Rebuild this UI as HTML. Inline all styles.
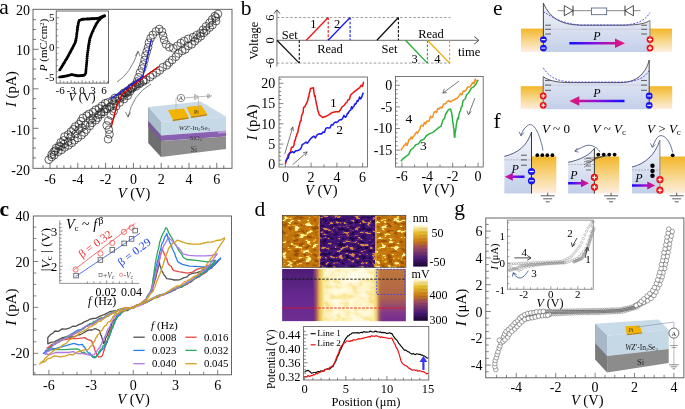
<!DOCTYPE html>
<html><head><meta charset="utf-8"><style>
html,body{margin:0;padding:0;background:#fff;width:685px;height:409px;overflow:hidden}
svg{display:block;will-change:transform}
</style></head><body>
<svg width="685" height="409" viewBox="0 0 685 409">
<rect width="685" height="409" fill="#fff"/>
<text x="-0.8" y="14.1" font-size="21.5" text-anchor="start" font-family='"Liberation Serif", serif' fill="#000" stroke="#000" stroke-width="0.0">a</text>
<line x1="43" y1="168.3" x2="43" y2="165.3" stroke="#666" stroke-width="0.9"/>
<line x1="50" y1="168.3" x2="50" y2="162.8" stroke="#666" stroke-width="0.9"/>
<line x1="57" y1="168.3" x2="57" y2="165.3" stroke="#666" stroke-width="0.9"/>
<line x1="63.9" y1="168.3" x2="63.9" y2="165.3" stroke="#666" stroke-width="0.9"/>
<line x1="70.8" y1="168.3" x2="70.8" y2="165.3" stroke="#666" stroke-width="0.9"/>
<line x1="77.8" y1="168.3" x2="77.8" y2="162.8" stroke="#666" stroke-width="0.9"/>
<line x1="84.8" y1="168.3" x2="84.8" y2="165.3" stroke="#666" stroke-width="0.9"/>
<line x1="91.7" y1="168.3" x2="91.7" y2="165.3" stroke="#666" stroke-width="0.9"/>
<line x1="98.7" y1="168.3" x2="98.7" y2="165.3" stroke="#666" stroke-width="0.9"/>
<line x1="105.6" y1="168.3" x2="105.6" y2="162.8" stroke="#666" stroke-width="0.9"/>
<line x1="112.6" y1="168.3" x2="112.6" y2="165.3" stroke="#666" stroke-width="0.9"/>
<line x1="119.5" y1="168.3" x2="119.5" y2="165.3" stroke="#666" stroke-width="0.9"/>
<line x1="126.5" y1="168.3" x2="126.5" y2="165.3" stroke="#666" stroke-width="0.9"/>
<line x1="133.4" y1="168.3" x2="133.4" y2="162.8" stroke="#666" stroke-width="0.9"/>
<line x1="140.3" y1="168.3" x2="140.3" y2="165.3" stroke="#666" stroke-width="0.9"/>
<line x1="147.3" y1="168.3" x2="147.3" y2="165.3" stroke="#666" stroke-width="0.9"/>
<line x1="154.2" y1="168.3" x2="154.2" y2="165.3" stroke="#666" stroke-width="0.9"/>
<line x1="161.2" y1="168.3" x2="161.2" y2="162.8" stroke="#666" stroke-width="0.9"/>
<line x1="168.2" y1="168.3" x2="168.2" y2="165.3" stroke="#666" stroke-width="0.9"/>
<line x1="175.1" y1="168.3" x2="175.1" y2="165.3" stroke="#666" stroke-width="0.9"/>
<line x1="182.1" y1="168.3" x2="182.1" y2="165.3" stroke="#666" stroke-width="0.9"/>
<line x1="189" y1="168.3" x2="189" y2="162.8" stroke="#666" stroke-width="0.9"/>
<line x1="196" y1="168.3" x2="196" y2="165.3" stroke="#666" stroke-width="0.9"/>
<line x1="202.9" y1="168.3" x2="202.9" y2="165.3" stroke="#666" stroke-width="0.9"/>
<line x1="209.9" y1="168.3" x2="209.9" y2="165.3" stroke="#666" stroke-width="0.9"/>
<line x1="216.8" y1="168.3" x2="216.8" y2="162.8" stroke="#666" stroke-width="0.9"/>
<line x1="223.8" y1="168.3" x2="223.8" y2="165.3" stroke="#666" stroke-width="0.9"/>
<line x1="33" y1="157.9" x2="36" y2="157.9" stroke="#666" stroke-width="0.9"/>
<line x1="33" y1="148.1" x2="36" y2="148.1" stroke="#666" stroke-width="0.9"/>
<line x1="33" y1="138.2" x2="36" y2="138.2" stroke="#666" stroke-width="0.9"/>
<line x1="33" y1="128.3" x2="38.5" y2="128.3" stroke="#666" stroke-width="0.9"/>
<line x1="33" y1="118.4" x2="36" y2="118.4" stroke="#666" stroke-width="0.9"/>
<line x1="33" y1="108.5" x2="36" y2="108.5" stroke="#666" stroke-width="0.9"/>
<line x1="33" y1="98.7" x2="36" y2="98.7" stroke="#666" stroke-width="0.9"/>
<line x1="33" y1="88.8" x2="38.5" y2="88.8" stroke="#666" stroke-width="0.9"/>
<line x1="33" y1="78.9" x2="36" y2="78.9" stroke="#666" stroke-width="0.9"/>
<line x1="33" y1="69" x2="36" y2="69" stroke="#666" stroke-width="0.9"/>
<line x1="33" y1="59.2" x2="36" y2="59.2" stroke="#666" stroke-width="0.9"/>
<line x1="33" y1="49.3" x2="38.5" y2="49.3" stroke="#666" stroke-width="0.9"/>
<line x1="33" y1="39.4" x2="36" y2="39.4" stroke="#666" stroke-width="0.9"/>
<line x1="33" y1="29.5" x2="36" y2="29.5" stroke="#666" stroke-width="0.9"/>
<line x1="33" y1="19.7" x2="36" y2="19.7" stroke="#666" stroke-width="0.9"/>
<text x="50" y="183.8" font-size="14" text-anchor="middle" font-family='"Liberation Serif", serif' fill="#000" stroke="#000" stroke-width="0.0">-6</text>
<text x="77.8" y="183.8" font-size="14" text-anchor="middle" font-family='"Liberation Serif", serif' fill="#000" stroke="#000" stroke-width="0.0">-4</text>
<text x="105.6" y="183.8" font-size="14" text-anchor="middle" font-family='"Liberation Serif", serif' fill="#000" stroke="#000" stroke-width="0.0">-2</text>
<text x="133.4" y="183.8" font-size="14" text-anchor="middle" font-family='"Liberation Serif", serif' fill="#000" stroke="#000" stroke-width="0.0">0</text>
<text x="161.2" y="183.8" font-size="14" text-anchor="middle" font-family='"Liberation Serif", serif' fill="#000" stroke="#000" stroke-width="0.0">2</text>
<text x="189" y="183.8" font-size="14" text-anchor="middle" font-family='"Liberation Serif", serif' fill="#000" stroke="#000" stroke-width="0.0">4</text>
<text x="216.8" y="183.8" font-size="14" text-anchor="middle" font-family='"Liberation Serif", serif' fill="#000" stroke="#000" stroke-width="0.0">6</text>
<text x="30" y="15.2" font-size="14" text-anchor="end" font-family='"Liberation Serif", serif' fill="#000" stroke="#000" stroke-width="0.0">20</text>
<text x="30" y="55.2" font-size="14" text-anchor="end" font-family='"Liberation Serif", serif' fill="#000" stroke="#000" stroke-width="0.0">10</text>
<text x="30" y="95.2" font-size="14" text-anchor="end" font-family='"Liberation Serif", serif' fill="#000" stroke="#000" stroke-width="0.0">0</text>
<text x="30" y="135.2" font-size="14" text-anchor="end" font-family='"Liberation Serif", serif' fill="#000" stroke="#000" stroke-width="0.0">-10</text>
<text x="30" y="175.2" font-size="14" text-anchor="end" font-family='"Liberation Serif", serif' fill="#000" stroke="#000" stroke-width="0.0">-20</text>
<rect x="33" y="9.3" width="199" height="159.0" fill="none" stroke="#555" stroke-width="0.9"/>
<text x="134" y="198.3" font-size="14.5" text-anchor="middle" font-family='"Liberation Serif", serif' fill="#000" stroke="#000" stroke-width="0.0"><tspan font-style="italic">V</tspan> (V)</text>
<g transform="translate(16,89) rotate(-90)"><text x="0" y="0" font-size="14.5" text-anchor="middle" font-family='"Liberation Serif", serif' fill="#000" stroke="#000" stroke-width="0.0"><tspan font-style="italic">I</tspan> (pA)</text>
</g>
<g fill="none" stroke="#222" stroke-width="0.7"><circle cx="55.3" cy="150.7" r="3.85"/><circle cx="60.5" cy="146.5" r="3.85"/><circle cx="63.9" cy="144" r="3.85"/><circle cx="68.2" cy="141.7" r="3.85"/><circle cx="70.6" cy="136.7" r="3.85"/><circle cx="75.6" cy="134" r="3.85"/><circle cx="78.9" cy="129.6" r="3.85"/><circle cx="81.8" cy="127.6" r="3.85"/><circle cx="85.2" cy="124.9" r="3.85"/><circle cx="90.4" cy="120.1" r="3.85"/><circle cx="92.6" cy="118" r="3.85"/><circle cx="98.4" cy="114.8" r="3.85"/><circle cx="101.1" cy="112.2" r="3.85"/><circle cx="104.9" cy="109.1" r="3.85"/><circle cx="109.9" cy="107" r="3.85"/><circle cx="51.6" cy="154.6" r="3.85"/><circle cx="53.7" cy="151.9" r="3.85"/><circle cx="56" cy="148.1" r="3.85"/><circle cx="59" cy="146" r="3.85"/><circle cx="60.8" cy="142.3" r="3.85"/><circle cx="63.5" cy="140.4" r="3.85"/><circle cx="64.5" cy="136.6" r="3.85"/><circle cx="68.1" cy="134.6" r="3.85"/><circle cx="71.1" cy="131.5" r="3.85"/><circle cx="73.5" cy="129.3" r="3.85"/><circle cx="75.3" cy="126.5" r="3.85"/><circle cx="78.9" cy="124.3" r="3.85"/><circle cx="80.9" cy="121.2" r="3.85"/><circle cx="82.8" cy="118" r="3.85"/><circle cx="86.7" cy="115.7" r="3.85"/><circle cx="88.9" cy="114" r="3.85"/><circle cx="92.9" cy="112.2" r="3.85"/><circle cx="95.5" cy="109.8" r="3.85"/><circle cx="98.9" cy="108.4" r="3.85"/><circle cx="102" cy="105.8" r="3.85"/><circle cx="105.2" cy="103.3" r="3.85"/><circle cx="107.7" cy="102.5" r="3.85"/><circle cx="112.4" cy="100.5" r="3.85"/><circle cx="114.8" cy="98" r="3.85"/><circle cx="118.2" cy="97.5" r="3.85"/><circle cx="121.9" cy="95" r="3.85"/><circle cx="125.3" cy="92.7" r="3.85"/><circle cx="127.8" cy="91.7" r="3.85"/><circle cx="130.9" cy="88.7" r="3.85"/><circle cx="133.4" cy="86.7" r="3.85"/><circle cx="137.5" cy="83.6" r="3.85"/><circle cx="140.2" cy="82.7" r="3.85"/><circle cx="143.4" cy="80.4" r="3.85"/><circle cx="48.8" cy="159.7" r="3.85"/><circle cx="51.7" cy="157.1" r="3.85"/><circle cx="54.3" cy="155.1" r="3.85"/><circle cx="58.2" cy="151.8" r="3.85"/><circle cx="61.5" cy="149.9" r="3.85"/><circle cx="64.8" cy="147.4" r="3.85"/><circle cx="68.4" cy="145.4" r="3.85"/><circle cx="71.8" cy="142.9" r="3.85"/><circle cx="74.5" cy="140.3" r="3.85"/><circle cx="77.7" cy="138" r="3.85"/><circle cx="81.4" cy="135.3" r="3.85"/><circle cx="84.3" cy="132.5" r="3.85"/><circle cx="86.5" cy="129.6" r="3.85"/><circle cx="89.9" cy="125.8" r="3.85"/><circle cx="92" cy="122.8" r="3.85"/><circle cx="95.8" cy="120.2" r="3.85"/><circle cx="97.9" cy="117.7" r="3.85"/><circle cx="101.1" cy="114.2" r="3.85"/><circle cx="103.8" cy="111.8" r="3.85"/><circle cx="106.8" cy="108.7" r="3.85"/><circle cx="110.7" cy="106.4" r="3.85"/><circle cx="113.4" cy="103.8" r="3.85"/><circle cx="116.2" cy="101.1" r="3.85"/><circle cx="119.9" cy="98.3" r="3.85"/><circle cx="122.7" cy="96.6" r="3.85"/><circle cx="126.5" cy="93.3" r="3.85"/><circle cx="129.9" cy="91.6" r="3.85"/><circle cx="132.4" cy="88.2" r="3.85"/><circle cx="135.9" cy="86.5" r="3.85"/><circle cx="139.2" cy="84.1" r="3.85"/><circle cx="143.2" cy="81.6" r="3.85"/><circle cx="146" cy="79.8" r="3.85"/><circle cx="150.2" cy="77" r="3.85"/><circle cx="152.9" cy="74.9" r="3.85"/><circle cx="156.5" cy="72.6" r="3.85"/><circle cx="159.8" cy="70.4" r="3.85"/><circle cx="162.7" cy="67.3" r="3.85"/><circle cx="166.9" cy="65.3" r="3.85"/><circle cx="169.2" cy="62.6" r="3.85"/><circle cx="172.2" cy="60" r="3.85"/><circle cx="175.9" cy="56.7" r="3.85"/><circle cx="178.4" cy="53.5" r="3.85"/><circle cx="182.2" cy="50.9" r="3.85"/><circle cx="185.3" cy="49.4" r="3.85"/><circle cx="188.3" cy="45.9" r="3.85"/><circle cx="191.8" cy="44.3" r="3.85"/><circle cx="194.8" cy="41.2" r="3.85"/><circle cx="197.7" cy="38.5" r="3.85"/><circle cx="200.7" cy="36.3" r="3.85"/><circle cx="203.9" cy="32.9" r="3.85"/><circle cx="206.4" cy="30.6" r="3.85"/><circle cx="209.6" cy="27.5" r="3.85"/><circle cx="212.5" cy="25" r="3.85"/><circle cx="216.1" cy="21.1" r="3.85"/><circle cx="216.1" cy="17.5" r="3.85"/><circle cx="218" cy="14" r="3.85"/><circle cx="123.9" cy="92.8" r="3.85"/><circle cx="127.7" cy="90.5" r="3.85"/><circle cx="131.4" cy="87.5" r="3.85"/><circle cx="135" cy="85" r="3.85"/><circle cx="137" cy="81.5" r="3.85"/><circle cx="138.5" cy="77.2" r="3.85"/><circle cx="140" cy="72.6" r="3.85"/><circle cx="142.1" cy="68.5" r="3.85"/><circle cx="143.4" cy="64.5" r="3.85"/><circle cx="144.6" cy="60" r="3.85"/><circle cx="145.4" cy="55.6" r="3.85"/><circle cx="146.8" cy="51.4" r="3.85"/><circle cx="148.1" cy="47.3" r="3.85"/><circle cx="148.9" cy="42.7" r="3.85"/><circle cx="150.6" cy="38.3" r="3.85"/><circle cx="152.8" cy="34.9" r="3.85"/><circle cx="155.9" cy="31.4" r="3.85"/><circle cx="159.3" cy="29" r="3.85"/><circle cx="161.9" cy="31.5" r="3.85"/><circle cx="163.1" cy="35.7" r="3.85"/><circle cx="164.1" cy="40" r="3.85"/><circle cx="166.1" cy="44.4" r="3.85"/><circle cx="169.4" cy="47.2" r="3.85"/><circle cx="173.4" cy="48.3" r="3.85"/><circle cx="177.4" cy="45.8" r="3.85"/><circle cx="180.8" cy="43" r="3.85"/><circle cx="184.2" cy="41" r="3.85"/><circle cx="188.3" cy="38.8" r="3.85"/><circle cx="193" cy="37.2" r="3.85"/><circle cx="196.6" cy="35.2" r="3.85"/><circle cx="200.4" cy="33.3" r="3.85"/><circle cx="203" cy="29.8" r="3.85"/><circle cx="206" cy="26.3" r="3.85"/><circle cx="209.5" cy="22.8" r="3.85"/><circle cx="212.1" cy="19.5" r="3.85"/><circle cx="214.8" cy="16.1" r="3.85"/><circle cx="127.7" cy="95.7" r="3.85"/><circle cx="124" cy="99" r="3.85"/><circle cx="119.7" cy="102.5" r="3.85"/><circle cx="116.1" cy="106.3" r="3.85"/><circle cx="113.6" cy="111.3" r="3.85"/><circle cx="111" cy="115.4" r="3.85"/><circle cx="108.3" cy="120.6" r="3.85"/><circle cx="106.7" cy="125.4" r="3.85"/><circle cx="108.9" cy="129.7" r="3.85"/><circle cx="109.5" cy="134.3" r="3.85"/><circle cx="108.1" cy="139.2" r="3.85"/></g>
<polyline points="111.1,127.5 117,105 122.3,94.2 140,80 158.5,66.8" stroke="#e00000" stroke-width="1.4" fill="none" stroke-linejoin="round"/>
<polyline points="110.5,99.1 142.8,76.6 151.3,39.3" stroke="#2020e0" stroke-width="1.4" fill="none" stroke-linejoin="round"/>
<path d="M117,82 Q130,74 138,52" fill="none" stroke="#333" stroke-width="0.6"/>
<path d="M135.5,56 L138,51 L140,56" fill="none" stroke="#333" stroke-width="0.6"/>
<path d="M151,84 Q133,94 128,117" fill="none" stroke="#333" stroke-width="0.6"/>
<path d="M125.5,112 L128,117 L130.5,112.5" fill="none" stroke="#333" stroke-width="0.6"/>
<polygon points="148.2,106.9 161,122 161,157 148.2,143" fill="#6e6e6e"/><polygon points="148.2,106.9 161,122 161,135.5 148.2,121" fill="#a9bccb"/><polygon points="148.2,121 161,135.5 161,141 148.2,127" fill="#7a5a9a"/><polygon points="148.2,106.9 200.6,101.4 226,116.5 161,122" fill="#c9dbe8"/><polygon points="161,122 226,116.5 226,130.8 161,135.5" fill="#c6d9e7"/><polygon points="161,135.5 226,130.8 226,136.5 161,141" fill="#8a60b0"/><polygon points="161,141 226,136.5 226,149 161,157" fill="#8e8e8e"/><polygon points="218,131.3 226,130.8 226,133 218,133.6" fill="#b89ad8"/><polygon points="168,110 184,108.5 188.7,117.3 172.8,119.6" fill="#f3b400"/><polygon points="172.8,119.6 188.7,117.3 188.7,118.8 172.8,121.2" fill="#c08400"/><polygon points="186.3,106.9 201.4,105.3 207,114 191,116.5" fill="#f3b400"/><polygon points="191,116.5 207,114 207,115.5 191,118" fill="#c08400"/><text x="196.5" y="113.5" font-size="6" text-anchor="middle" font-family='"Liberation Serif", serif' fill="#333" stroke="#333" stroke-width="0.0">Pt</text>
<text x="194.3" y="130" font-size="7" text-anchor="middle" font-family='"Liberation Serif", serif' fill="#333" stroke="#333" stroke-width="0.0"><tspan font-style="italic">WZ'</tspan>-In<tspan font-size="4.5" dy="1">2</tspan><tspan dy="-1">Se</tspan><tspan font-size="4.5" dy="1">3</tspan></text>
<text x="195.9" y="139.6" font-size="6.5" text-anchor="middle" font-family='"Liberation Serif", serif' fill="#333" stroke="#333" stroke-width="0.0">SiO<tspan font-size="4.5" dy="1">2</tspan></text>
<text x="194" y="152" font-size="7.5" text-anchor="middle" font-family='"Liberation Serif", serif' fill="#333" stroke="#333" stroke-width="0.0">Si</text>
<polyline points="176,113 176,98 177.3,98" stroke="#aaa" stroke-width="0.6" fill="none" stroke-linejoin="round"/>
<circle cx="181" cy="98" r="3.7" fill="#fff" stroke="#444" stroke-width="0.6"/><text x="181" y="100.3" font-size="6" text-anchor="middle" font-family='"Liberation Serif", serif' fill="#333" stroke="#333" stroke-width="0.0">A</text>
<polyline points="184.7,98 195,97" stroke="#888" stroke-width="0.6" fill="none" stroke-linejoin="round"/>
<line x1="195" y1="94" x2="195" y2="100" stroke="#555" stroke-width="0.7"/>
<line x1="197" y1="95.2" x2="197" y2="98.8" stroke="#555" stroke-width="0.7"/>
<polyline points="197,97 208,96 208,98" stroke="#888" stroke-width="0.6" fill="none" stroke-linejoin="round"/>
<polyline points="198.5,97 198.5,110" stroke="#aaa" stroke-width="0.6" fill="none" stroke-linejoin="round"/>
<line x1="208" y1="93.5" x2="208" y2="98.5" stroke="#555" stroke-width="0.6"/>
<line x1="209.5" y1="94.5" x2="209.5" y2="97.5" stroke="#555" stroke-width="0.6"/>
<line x1="211" y1="95.2" x2="211" y2="96.8" stroke="#555" stroke-width="0.6"/>

<rect x="56.2" y="11" width="52.4" height="72.1" fill="#fff" stroke="#444" stroke-width="0.8"/>
<line x1="60.2" y1="83.1" x2="60.2" y2="80.1" stroke="#666" stroke-width="0.7"/>
<line x1="63.8" y1="83.1" x2="63.8" y2="81.1" stroke="#666" stroke-width="0.7"/>
<line x1="67.5" y1="83.1" x2="67.5" y2="81.1" stroke="#666" stroke-width="0.7"/>
<line x1="71.1" y1="83.1" x2="71.1" y2="80.1" stroke="#666" stroke-width="0.7"/>
<line x1="74.8" y1="83.1" x2="74.8" y2="81.1" stroke="#666" stroke-width="0.7"/>
<line x1="78.4" y1="83.1" x2="78.4" y2="81.1" stroke="#666" stroke-width="0.7"/>
<line x1="82.1" y1="83.1" x2="82.1" y2="80.1" stroke="#666" stroke-width="0.7"/>
<line x1="85.8" y1="83.1" x2="85.8" y2="81.1" stroke="#666" stroke-width="0.7"/>
<line x1="89.4" y1="83.1" x2="89.4" y2="81.1" stroke="#666" stroke-width="0.7"/>
<line x1="93" y1="83.1" x2="93" y2="80.1" stroke="#666" stroke-width="0.7"/>
<line x1="96.7" y1="83.1" x2="96.7" y2="81.1" stroke="#666" stroke-width="0.7"/>
<line x1="100.3" y1="83.1" x2="100.3" y2="81.1" stroke="#666" stroke-width="0.7"/>
<line x1="104" y1="83.1" x2="104" y2="80.1" stroke="#666" stroke-width="0.7"/>
<line x1="107.6" y1="83.1" x2="107.6" y2="81.1" stroke="#666" stroke-width="0.7"/>
<line x1="56.2" y1="77.7" x2="59.2" y2="77.7" stroke="#666" stroke-width="0.7"/>
<line x1="56.2" y1="71.7" x2="58.2" y2="71.7" stroke="#666" stroke-width="0.7"/>
<line x1="56.2" y1="65.7" x2="58.2" y2="65.7" stroke="#666" stroke-width="0.7"/>
<line x1="56.2" y1="59.7" x2="58.2" y2="59.7" stroke="#666" stroke-width="0.7"/>
<line x1="56.2" y1="53.7" x2="58.2" y2="53.7" stroke="#666" stroke-width="0.7"/>
<line x1="56.2" y1="47.7" x2="59.2" y2="47.7" stroke="#666" stroke-width="0.7"/>
<line x1="56.2" y1="41.7" x2="58.2" y2="41.7" stroke="#666" stroke-width="0.7"/>
<line x1="56.2" y1="35.7" x2="58.2" y2="35.7" stroke="#666" stroke-width="0.7"/>
<line x1="56.2" y1="29.7" x2="58.2" y2="29.7" stroke="#666" stroke-width="0.7"/>
<line x1="56.2" y1="23.7" x2="58.2" y2="23.7" stroke="#666" stroke-width="0.7"/>
<line x1="56.2" y1="17.7" x2="59.2" y2="17.7" stroke="#666" stroke-width="0.7"/>
<text x="60.2" y="93.5" font-size="11" text-anchor="middle" font-family='"Liberation Serif", serif' fill="#000" stroke="#000" stroke-width="0.0">-6</text>
<text x="71.1" y="93.5" font-size="11" text-anchor="middle" font-family='"Liberation Serif", serif' fill="#000" stroke="#000" stroke-width="0.0">-3</text>
<text x="82.1" y="93.5" font-size="11" text-anchor="middle" font-family='"Liberation Serif", serif' fill="#000" stroke="#000" stroke-width="0.0">0</text>
<text x="93" y="93.5" font-size="11" text-anchor="middle" font-family='"Liberation Serif", serif' fill="#000" stroke="#000" stroke-width="0.0">3</text>
<text x="104" y="93.5" font-size="11" text-anchor="middle" font-family='"Liberation Serif", serif' fill="#000" stroke="#000" stroke-width="0.0">6</text>
<text x="54.5" y="20.9" font-size="11" text-anchor="end" font-family='"Liberation Serif", serif' fill="#000" stroke="#000" stroke-width="0.0">5</text>
<text x="54.5" y="50.9" font-size="11" text-anchor="end" font-family='"Liberation Serif", serif' fill="#000" stroke="#000" stroke-width="0.0">0</text>
<text x="54.5" y="80.9" font-size="11" text-anchor="end" font-family='"Liberation Serif", serif' fill="#000" stroke="#000" stroke-width="0.0">-5</text>
<text x="82" y="100.5" font-size="12" text-anchor="middle" font-family='"Liberation Serif", serif' fill="#000" stroke="#000" stroke-width="0.0"><tspan font-style="italic">V</tspan> (V)</text>
<g transform="translate(46.5,45) rotate(-90)"><text x="0" y="0" font-size="11" text-anchor="middle" font-family='"Liberation Serif", serif' fill="#000" stroke="#000" stroke-width="0.0"><tspan font-style="italic">P</tspan> (mC/cm<tspan baseline-shift="super" font-size="6.5">2</tspan>)</text>
</g>
<g fill="#000"><circle cx="59.8" cy="69.9" r="1.45"/><circle cx="60.7" cy="68.6" r="1.45"/><circle cx="61.5" cy="67.2" r="1.45"/><circle cx="62.3" cy="65.9" r="1.45"/><circle cx="63.1" cy="64.5" r="1.45"/><circle cx="63.9" cy="63.2" r="1.45"/><circle cx="64.7" cy="61.9" r="1.45"/><circle cx="65.5" cy="60.5" r="1.45"/><circle cx="66.4" cy="59.2" r="1.45"/><circle cx="67.2" cy="57.8" r="1.45"/><circle cx="68" cy="56.4" r="1.45"/><circle cx="68.7" cy="55" r="1.45"/><circle cx="69.5" cy="53.6" r="1.45"/><circle cx="70.2" cy="52.2" r="1.45"/><circle cx="71" cy="50.7" r="1.45"/><circle cx="71.8" cy="49.3" r="1.45"/><circle cx="72.5" cy="47.9" r="1.45"/><circle cx="73.3" cy="46.4" r="1.45"/><circle cx="74" cy="45" r="1.45"/><circle cx="74.8" cy="43.6" r="1.45"/><circle cx="75.4" cy="42" r="1.45"/><circle cx="75.8" cy="40.2" r="1.45"/><circle cx="76.2" cy="38.4" r="1.45"/><circle cx="76.5" cy="36.6" r="1.45"/><circle cx="76.7" cy="34.7" r="1.45"/><circle cx="76.9" cy="32.9" r="1.45"/><circle cx="77.2" cy="31" r="1.45"/><circle cx="77.4" cy="29.2" r="1.45"/><circle cx="77.6" cy="27.3" r="1.45"/><circle cx="78" cy="25.5" r="1.45"/><circle cx="78.3" cy="23.7" r="1.45"/><circle cx="78.7" cy="21.9" r="1.45"/><circle cx="79.3" cy="20.5" r="1.45"/><circle cx="80.4" cy="20.1" r="1.45"/><circle cx="81.5" cy="19.6" r="1.45"/><circle cx="82.6" cy="19.2" r="1.45"/><circle cx="83.8" cy="19.2" r="1.45"/><circle cx="84.9" cy="19.1" r="1.45"/><circle cx="86.1" cy="19.1" r="1.45"/><circle cx="87.3" cy="19" r="1.45"/><circle cx="88.4" cy="19" r="1.45"/><circle cx="89.6" cy="19" r="1.45"/><circle cx="90.7" cy="18.9" r="1.45"/><circle cx="91.9" cy="18.8" r="1.45"/><circle cx="93" cy="18.8" r="1.45"/><circle cx="94.2" cy="18.7" r="1.45"/><circle cx="95.3" cy="18.6" r="1.45"/><circle cx="96.5" cy="18.5" r="1.45"/><circle cx="97.6" cy="18.4" r="1.45"/><circle cx="98.8" cy="18.2" r="1.45"/><circle cx="99.9" cy="17.7" r="1.45"/><circle cx="101" cy="17.3" r="1.45"/><circle cx="102.1" cy="16.8" r="1.45"/><circle cx="103.2" cy="16.4" r="1.45"/><circle cx="104.4" cy="15.9" r="1.45"/><circle cx="104.4" cy="15.9" r="1.45"/><circle cx="103.2" cy="16.6" r="1.45"/><circle cx="102" cy="17.4" r="1.45"/><circle cx="100.9" cy="18.3" r="1.45"/><circle cx="99.8" cy="19.4" r="1.45"/><circle cx="98.7" cy="20.5" r="1.45"/><circle cx="97.7" cy="21.9" r="1.45"/><circle cx="96.8" cy="23.3" r="1.45"/><circle cx="95.9" cy="24.7" r="1.45"/><circle cx="95.1" cy="26.4" r="1.45"/><circle cx="94.3" cy="28" r="1.45"/><circle cx="93.5" cy="29.6" r="1.45"/><circle cx="92.8" cy="31.3" r="1.45"/><circle cx="92" cy="33" r="1.45"/><circle cx="91.3" cy="34.7" r="1.45"/><circle cx="90.7" cy="36.5" r="1.45"/><circle cx="90" cy="38.3" r="1.45"/><circle cx="89.6" cy="40.3" r="1.45"/><circle cx="89.2" cy="42.3" r="1.45"/><circle cx="88.9" cy="44.3" r="1.45"/><circle cx="88.5" cy="46.3" r="1.45"/><circle cx="88.3" cy="48.3" r="1.45"/><circle cx="88" cy="50.4" r="1.45"/><circle cx="87.7" cy="52.4" r="1.45"/><circle cx="87.4" cy="54.5" r="1.45"/><circle cx="87.2" cy="56.5" r="1.45"/><circle cx="87" cy="58.6" r="1.45"/><circle cx="86.9" cy="60.7" r="1.45"/><circle cx="86.7" cy="62.7" r="1.45"/><circle cx="86.5" cy="64.8" r="1.45"/><circle cx="86.3" cy="66.8" r="1.45"/><circle cx="86.1" cy="68.9" r="1.45"/><circle cx="85.9" cy="71" r="1.45"/><circle cx="85.8" cy="73" r="1.45"/><circle cx="84.9" cy="74.5" r="1.45"/><circle cx="83.8" cy="75.4" r="1.45"/><circle cx="82.6" cy="75.5" r="1.45"/><circle cx="81.3" cy="75.6" r="1.45"/><circle cx="80" cy="75.8" r="1.45"/><circle cx="78.8" cy="75.9" r="1.45"/><circle cx="77.5" cy="75.7" r="1.45"/><circle cx="76.2" cy="75.5" r="1.45"/><circle cx="75" cy="75.3" r="1.45"/><circle cx="73.7" cy="75.1" r="1.45"/><circle cx="72.4" cy="74.8" r="1.45"/><circle cx="71.2" cy="74.8" r="1.45"/><circle cx="69.9" cy="75.1" r="1.45"/><circle cx="68.7" cy="75.4" r="1.45"/><circle cx="67.4" cy="75.8" r="1.45"/><circle cx="66.2" cy="76.1" r="1.45"/><circle cx="64.9" cy="76.3" r="1.45"/><circle cx="63.6" cy="76.5" r="1.45"/><circle cx="62.4" cy="76.7" r="1.45"/><circle cx="61.1" cy="76.9" r="1.45"/><circle cx="59.8" cy="77.1" r="1.45"/></g>
<text x="240.8" y="14.7" font-size="21.5" text-anchor="start" font-family='"Liberation Serif", serif' fill="#000" stroke="#000" stroke-width="0.0">b</text>
<line x1="276.9" y1="66.6" x2="276.9" y2="10" stroke="#8a8a8a" stroke-width="1.2"/>
<polyline points="273.9,13.6 276.9,9.8 279.9,13.6" stroke="#222" stroke-width="0.8" fill="none" stroke-linejoin="round"/>
<line x1="276.9" y1="40.3" x2="478" y2="40.3" stroke="#8a8a8a" stroke-width="1.2"/>
<polyline points="474.2,36.5 478.9,40.3 474.2,44.1" stroke="#222" stroke-width="0.8" fill="none" stroke-linejoin="round"/>
<line x1="276.9" y1="17.5" x2="450.5" y2="17.5" stroke="#777" stroke-width="0.7" stroke-dasharray="2.6,1.8"/>
<line x1="276.9" y1="63.1" x2="450.5" y2="63.1" stroke="#777" stroke-width="0.7" stroke-dasharray="2.6,1.8"/>
<g transform="translate(273.6,17.5) rotate(-90)"><text x="0" y="0" font-size="12.5" text-anchor="middle" font-family='"Liberation Serif", serif' fill="#000" stroke="#000" stroke-width="0.0">6</text>
</g>
<g transform="translate(273.6,40.3) rotate(-90)"><text x="0" y="0" font-size="12.5" text-anchor="middle" font-family='"Liberation Serif", serif' fill="#000" stroke="#000" stroke-width="0.0">0</text>
</g>
<g transform="translate(273.6,63.1) rotate(-90)"><text x="0" y="0" font-size="12.5" text-anchor="middle" font-family='"Liberation Serif", serif' fill="#000" stroke="#000" stroke-width="0.0">-6</text>
</g>
<g transform="translate(258,40.7) rotate(-90)"><text x="0" y="0" font-size="12.5" text-anchor="middle" font-family='"Liberation Serif", serif' fill="#000" stroke="#000" stroke-width="0.0">Voltage</text>
</g>
<line x1="276.9" y1="40.3" x2="299.3" y2="63.1" stroke="#111" stroke-width="1.3"/>
<line x1="299.3" y1="40.3" x2="299.3" y2="63.1" stroke="#111" stroke-width="1.1" stroke-dasharray="2.6,1.6"/>
<line x1="306.3" y1="40.3" x2="328.2" y2="17.5" stroke="#ee1111" stroke-width="1.3"/>
<line x1="328.2" y1="17.5" x2="328.2" y2="40.3" stroke="#ee1111" stroke-width="1.1" stroke-dasharray="2.6,1.6"/>
<line x1="328.2" y1="40.3" x2="350.1" y2="17.5" stroke="#1a1aee" stroke-width="1.3"/>
<line x1="350.1" y1="17.5" x2="350.1" y2="40.3" stroke="#1a1aee" stroke-width="1.1" stroke-dasharray="2.6,1.6"/>
<line x1="376.9" y1="40.3" x2="398.4" y2="17.5" stroke="#111" stroke-width="1.3"/>
<line x1="398.4" y1="17.5" x2="398.4" y2="40.3" stroke="#111" stroke-width="1.1" stroke-dasharray="2.6,1.6"/>
<line x1="405.5" y1="40.3" x2="427.4" y2="63.1" stroke="#22aa33" stroke-width="1.3"/>
<line x1="427.4" y1="40.3" x2="427.4" y2="63.1" stroke="#22aa33" stroke-width="1.1" stroke-dasharray="2.6,1.6"/>
<line x1="427.4" y1="40.3" x2="449.6" y2="63.1" stroke="#f0a800" stroke-width="1.3"/>
<line x1="449.6" y1="40.3" x2="449.6" y2="63.1" stroke="#f0a800" stroke-width="1.1" stroke-dasharray="2.6,1.6"/>
<text x="289.7" y="38.5" font-size="12.5" text-anchor="middle" font-family='"Liberation Serif", serif' fill="#000" stroke="#000" stroke-width="0.0">Set</text>
<text x="313.3" y="28" font-size="12.5" text-anchor="middle" font-family='"Liberation Serif", serif' fill="#000" stroke="#000" stroke-width="0.0">1</text>
<text x="337" y="28" font-size="12.5" text-anchor="middle" font-family='"Liberation Serif", serif' fill="#000" stroke="#000" stroke-width="0.0">2</text>
<text x="330" y="52.6" font-size="12.5" text-anchor="middle" font-family='"Liberation Serif", serif' fill="#000" stroke="#000" stroke-width="0.0">Read</text>
<text x="389.6" y="52.6" font-size="12.5" text-anchor="middle" font-family='"Liberation Serif", serif' fill="#000" stroke="#000" stroke-width="0.0">Set</text>
<text x="431" y="37.7" font-size="12.5" text-anchor="middle" font-family='"Liberation Serif", serif' fill="#000" stroke="#000" stroke-width="0.0">Read</text>
<text x="414.6" y="63" font-size="12.5" text-anchor="middle" font-family='"Liberation Serif", serif' fill="#000" stroke="#000" stroke-width="0.0">3</text>
<text x="437.3" y="63" font-size="12.5" text-anchor="middle" font-family='"Liberation Serif", serif' fill="#000" stroke="#000" stroke-width="0.0">4</text>
<text x="469.2" y="56.4" font-size="12.5" text-anchor="middle" font-family='"Liberation Serif", serif' fill="#000" stroke="#000" stroke-width="0.0">time</text>
<line x1="285.4" y1="167" x2="285.4" y2="162.6" stroke="#666" stroke-width="0.8"/>
<line x1="298.3" y1="167" x2="298.3" y2="164.5" stroke="#666" stroke-width="0.8"/>
<line x1="311.1" y1="167" x2="311.1" y2="162.6" stroke="#666" stroke-width="0.8"/>
<line x1="324" y1="167" x2="324" y2="164.5" stroke="#666" stroke-width="0.8"/>
<line x1="336.9" y1="167" x2="336.9" y2="162.6" stroke="#666" stroke-width="0.8"/>
<line x1="349.8" y1="167" x2="349.8" y2="164.5" stroke="#666" stroke-width="0.8"/>
<line x1="362.6" y1="167" x2="362.6" y2="162.6" stroke="#666" stroke-width="0.8"/>
<line x1="279" y1="164.3" x2="283.4" y2="164.3" stroke="#666" stroke-width="0.8"/>
<line x1="279" y1="160.2" x2="281.2" y2="160.2" stroke="#666" stroke-width="0.8"/>
<line x1="279" y1="156.2" x2="281.2" y2="156.2" stroke="#666" stroke-width="0.8"/>
<line x1="279" y1="152.2" x2="281.2" y2="152.2" stroke="#666" stroke-width="0.8"/>
<line x1="279" y1="148.1" x2="281.2" y2="148.1" stroke="#666" stroke-width="0.8"/>
<line x1="279" y1="144.1" x2="283.4" y2="144.1" stroke="#666" stroke-width="0.8"/>
<line x1="279" y1="140" x2="281.2" y2="140" stroke="#666" stroke-width="0.8"/>
<line x1="279" y1="136" x2="281.2" y2="136" stroke="#666" stroke-width="0.8"/>
<line x1="279" y1="131.9" x2="281.2" y2="131.9" stroke="#666" stroke-width="0.8"/>
<line x1="279" y1="127.9" x2="281.2" y2="127.9" stroke="#666" stroke-width="0.8"/>
<line x1="279" y1="123.8" x2="283.4" y2="123.8" stroke="#666" stroke-width="0.8"/>
<line x1="279" y1="119.8" x2="281.2" y2="119.8" stroke="#666" stroke-width="0.8"/>
<line x1="279" y1="115.7" x2="281.2" y2="115.7" stroke="#666" stroke-width="0.8"/>
<line x1="279" y1="111.7" x2="281.2" y2="111.7" stroke="#666" stroke-width="0.8"/>
<line x1="279" y1="107.6" x2="281.2" y2="107.6" stroke="#666" stroke-width="0.8"/>
<line x1="279" y1="103.6" x2="283.4" y2="103.6" stroke="#666" stroke-width="0.8"/>
<line x1="279" y1="99.5" x2="281.2" y2="99.5" stroke="#666" stroke-width="0.8"/>
<line x1="279" y1="95.5" x2="281.2" y2="95.5" stroke="#666" stroke-width="0.8"/>
<line x1="279" y1="91.4" x2="281.2" y2="91.4" stroke="#666" stroke-width="0.8"/>
<line x1="279" y1="87.4" x2="281.2" y2="87.4" stroke="#666" stroke-width="0.8"/>
<line x1="279" y1="83.3" x2="283.4" y2="83.3" stroke="#666" stroke-width="0.8"/>
<line x1="279" y1="79.3" x2="281.2" y2="79.3" stroke="#666" stroke-width="0.8"/>
<rect x="279" y="77" width="88.39999999999998" height="90" fill="none" stroke="#555" stroke-width="0.8"/>
<text x="285.4" y="182" font-size="14" text-anchor="middle" font-family='"Liberation Serif", serif' fill="#000" stroke="#000" stroke-width="0.0">0</text>
<text x="311.1" y="182" font-size="14" text-anchor="middle" font-family='"Liberation Serif", serif' fill="#000" stroke="#000" stroke-width="0.0">2</text>
<text x="336.9" y="182" font-size="14" text-anchor="middle" font-family='"Liberation Serif", serif' fill="#000" stroke="#000" stroke-width="0.0">4</text>
<text x="362.6" y="182" font-size="14" text-anchor="middle" font-family='"Liberation Serif", serif' fill="#000" stroke="#000" stroke-width="0.0">6</text>
<text x="275.2" y="88.1" font-size="14" text-anchor="end" font-family='"Liberation Serif", serif' fill="#000" stroke="#000" stroke-width="0.0">20</text>
<text x="275.2" y="108.4" font-size="14" text-anchor="end" font-family='"Liberation Serif", serif' fill="#000" stroke="#000" stroke-width="0.0">15</text>
<text x="275.2" y="128.6" font-size="14" text-anchor="end" font-family='"Liberation Serif", serif' fill="#000" stroke="#000" stroke-width="0.0">10</text>
<text x="275.2" y="148.9" font-size="14" text-anchor="end" font-family='"Liberation Serif", serif' fill="#000" stroke="#000" stroke-width="0.0">5</text>
<text x="275.2" y="169.1" font-size="14" text-anchor="end" font-family='"Liberation Serif", serif' fill="#000" stroke="#000" stroke-width="0.0">0</text>
<text x="321.3" y="195.3" font-size="14.5" text-anchor="middle" font-family='"Liberation Serif", serif' fill="#000" stroke="#000" stroke-width="0.0"><tspan font-style="italic">V</tspan> (V)</text>
<g transform="translate(256.5,122.4) rotate(-90)"><text x="0" y="0" font-size="14.5" text-anchor="middle" font-family='"Liberation Serif", serif' fill="#000" stroke="#000" stroke-width="0.0"><tspan font-style="italic">I</tspan> (pA)</text>
</g>
<polyline points="285.4,164 286.2,160.8 286.9,159.4 287.7,156.4 288.4,154.3 289.2,154.2 290.3,152.4 291.5,147.3 292.7,147.3 293.9,145.4 294.7,140.5 295.3,140.3 295.9,136.9 296.5,136.1 297.1,133.4 297.7,133.1 298.3,129.3 298.9,126.3 299.4,125.5 299.9,122.6 300.5,120.8 301,120.9 301.5,116.3 302,114.8 302.5,113.7 303.1,112.6 303.6,107.5 304.7,106.9 306.2,103.9 307.5,101.3 307.9,99.8 308.4,96.9 308.8,96.8 309.3,93.2 309.7,92.4 310.5,88.5 313.5,87.8 313.9,92.7 314.3,94.7 314.7,96.5 315.2,95.9 315.6,99.9 316,101.3 316.5,104.6 317,105.9 317.4,108.5 317.9,110.7 318.4,111.9 318.9,114 319.4,114.9 322.7,117.5 326,116.3 329.1,114.7 332.4,112.4 335.9,111.8 339,111.8 341.8,107.3 344.5,105 345.7,103.2 346.9,102.3 348.1,99.7 349.3,99.5 350.5,95.2 351.7,94 352.9,93 354.1,91.8 359.7,87.7 361.2,85.2 362.4,86.5 363.6,81.8" stroke="#ee1111" stroke-width="1.5" fill="none" stroke-linejoin="round"/>
<polyline points="285.4,161.6 286.1,161.1 286.7,159 287.4,158.8 288.1,158.2 288.8,155.9 289.5,153 291,152.5 292.5,151.7 294,152.8 295.6,150.7 297.1,150.7 298.6,150.2 299.9,149.5 301.1,148.1 302.3,144.5 303.6,143.9 304.8,143 306,142.1 307.2,143.3 308.4,141.9 309.7,139.8 310.9,138.5 312.4,137.1 313.9,136.1 315.4,138 316.9,135.2 318.4,134 320,133.7 321.5,134 323,132 324.4,132.4 325.8,128.4 327.2,127.7 328.6,127.9 330,127.9 331.4,124.7 332.8,125 334.2,122.9 335.5,122.1 336.7,122.4 337.9,121.7 339.1,120.1 340.3,119.7 341.5,119.7 342.7,118.2 344,115.4 345.2,117.3 346.4,116.3 347.4,113.2 348.2,113.4 349,111.5 349.8,110.7 350.7,110.2 351.5,106.8 352.3,108.7 353.1,106.9 353.9,106.6 354.7,104.1 355.5,104.3 356.3,103 357.2,100.6 358,101.2 358.8,99.3 359.6,97 360.4,98.9 361.2,98.1 362,96.4 362.8,93.5 363.6,93" stroke="#1a1aee" stroke-width="1.5" fill="none" stroke-linejoin="round"/>
<text x="333.4" y="106.6" font-size="13.5" text-anchor="middle" font-family='"Liberation Serif", serif' fill="#000" stroke="#000" stroke-width="0.0">1</text>
<text x="339.7" y="133.6" font-size="13.5" text-anchor="middle" font-family='"Liberation Serif", serif' fill="#000" stroke="#000" stroke-width="0.0">2</text>
<line x1="284.7" y1="154.2" x2="292.7" y2="127.2" stroke="#444" stroke-width="0.7"/>
<polyline points="290.2,130.2 292.9,126.8 293.4,131.2" stroke="#444" stroke-width="0.7" fill="none" stroke-linejoin="round"/>
<line x1="292.7" y1="164.7" x2="307" y2="152" stroke="#444" stroke-width="0.7"/>
<polyline points="303,152.8 307.2,151.8 305.4,155.8" stroke="#444" stroke-width="0.7" fill="none" stroke-linejoin="round"/>
<line x1="401.9" y1="167" x2="401.9" y2="162.6" stroke="#666" stroke-width="0.8"/>
<line x1="414.6" y1="167" x2="414.6" y2="164.5" stroke="#666" stroke-width="0.8"/>
<line x1="427.3" y1="167" x2="427.3" y2="162.6" stroke="#666" stroke-width="0.8"/>
<line x1="440" y1="167" x2="440" y2="164.5" stroke="#666" stroke-width="0.8"/>
<line x1="452.7" y1="167" x2="452.7" y2="162.6" stroke="#666" stroke-width="0.8"/>
<line x1="465.4" y1="167" x2="465.4" y2="164.5" stroke="#666" stroke-width="0.8"/>
<line x1="478.1" y1="167" x2="478.1" y2="162.6" stroke="#666" stroke-width="0.8"/>
<line x1="395.4" y1="163.1" x2="397.6" y2="163.1" stroke="#666" stroke-width="0.8"/>
<line x1="395.4" y1="158.7" x2="397.6" y2="158.7" stroke="#666" stroke-width="0.8"/>
<line x1="395.4" y1="154.4" x2="397.6" y2="154.4" stroke="#666" stroke-width="0.8"/>
<line x1="395.4" y1="150.1" x2="399.8" y2="150.1" stroke="#666" stroke-width="0.8"/>
<line x1="395.4" y1="145.8" x2="397.6" y2="145.8" stroke="#666" stroke-width="0.8"/>
<line x1="395.4" y1="141.5" x2="397.6" y2="141.5" stroke="#666" stroke-width="0.8"/>
<line x1="395.4" y1="137.1" x2="397.6" y2="137.1" stroke="#666" stroke-width="0.8"/>
<line x1="395.4" y1="132.8" x2="397.6" y2="132.8" stroke="#666" stroke-width="0.8"/>
<line x1="395.4" y1="128.5" x2="399.8" y2="128.5" stroke="#666" stroke-width="0.8"/>
<line x1="395.4" y1="124.2" x2="397.6" y2="124.2" stroke="#666" stroke-width="0.8"/>
<line x1="395.4" y1="119.9" x2="397.6" y2="119.9" stroke="#666" stroke-width="0.8"/>
<line x1="395.4" y1="115.5" x2="397.6" y2="115.5" stroke="#666" stroke-width="0.8"/>
<line x1="395.4" y1="111.2" x2="397.6" y2="111.2" stroke="#666" stroke-width="0.8"/>
<line x1="395.4" y1="106.9" x2="399.8" y2="106.9" stroke="#666" stroke-width="0.8"/>
<line x1="395.4" y1="102.6" x2="397.6" y2="102.6" stroke="#666" stroke-width="0.8"/>
<line x1="395.4" y1="98.3" x2="397.6" y2="98.3" stroke="#666" stroke-width="0.8"/>
<line x1="395.4" y1="93.9" x2="397.6" y2="93.9" stroke="#666" stroke-width="0.8"/>
<line x1="395.4" y1="89.6" x2="397.6" y2="89.6" stroke="#666" stroke-width="0.8"/>
<line x1="395.4" y1="85.3" x2="399.8" y2="85.3" stroke="#666" stroke-width="0.8"/>
<line x1="395.4" y1="81" x2="397.6" y2="81" stroke="#666" stroke-width="0.8"/>
<rect x="395.4" y="76.4" width="87.80000000000001" height="90.6" fill="none" stroke="#555" stroke-width="0.8"/>
<text x="401.9" y="180.5" font-size="14" text-anchor="middle" font-family='"Liberation Serif", serif' fill="#000" stroke="#000" stroke-width="0.0">-6</text>
<text x="427.3" y="180.5" font-size="14" text-anchor="middle" font-family='"Liberation Serif", serif' fill="#000" stroke="#000" stroke-width="0.0">-4</text>
<text x="452.7" y="180.5" font-size="14" text-anchor="middle" font-family='"Liberation Serif", serif' fill="#000" stroke="#000" stroke-width="0.0">-2</text>
<text x="478.1" y="180.5" font-size="14" text-anchor="middle" font-family='"Liberation Serif", serif' fill="#000" stroke="#000" stroke-width="0.0">0</text>
<text x="392.3" y="90.1" font-size="14" text-anchor="end" font-family='"Liberation Serif", serif' fill="#000" stroke="#000" stroke-width="0.0">0</text>
<text x="392.3" y="111.7" font-size="14" text-anchor="end" font-family='"Liberation Serif", serif' fill="#000" stroke="#000" stroke-width="0.0">-5</text>
<text x="392.3" y="133.3" font-size="14" text-anchor="end" font-family='"Liberation Serif", serif' fill="#000" stroke="#000" stroke-width="0.0">-10</text>
<text x="392.3" y="154.9" font-size="14" text-anchor="end" font-family='"Liberation Serif", serif' fill="#000" stroke="#000" stroke-width="0.0">-15</text>
<text x="438.4" y="194" font-size="14.5" text-anchor="middle" font-family='"Liberation Serif", serif' fill="#000" stroke="#000" stroke-width="0.0"><tspan font-style="italic">V</tspan> (V)</text>
<polyline points="400.9,150.5 401.9,148.8 402.9,147.3 404,145.5 405,145.1 406,143.1 407.1,145.4 408.1,142.4 409.1,139.3 410.2,139.2 411.2,137 412.2,138.8 413.3,136.2 414.4,135.9 415.4,133.5 416.5,132.1 417.5,133.1 418.6,131 419.7,129.6 420.7,125.8 421.9,125.2 423.1,126.3 424.4,122.6 425.6,124 426.8,120.9 428,121.6 429.2,120.9 430.5,116.3 431.7,117.6 432.9,116.4 434.1,112.2 435.4,111.4 436.6,112.4 437.8,108.6 439,109 440.3,107.3 442,108 443.7,104 445.4,103.8 447.1,101.6 448.8,100.7 450.5,101.9 452.2,100.5 453.9,100.1 455.6,99 457.2,98.2 458.9,96.1 460.4,93.7 461.9,94.9 463.3,91.1 464.8,91.2 466.2,90.1 467.7,86.9 469.1,87.1 470.3,86.5 471.5,84.6 472.8,82.5 474,83.8 475.2,79.1 476.4,81.5" stroke="#f39020" stroke-width="1.5" fill="none" stroke-linejoin="round"/>
<polyline points="400.9,161.2 402.9,158.7 404.8,157.5 406.8,155.9 408.8,154.4 410.7,149.8 413.2,148.1 415.8,144.8 418.4,143.9 421,140.2 423.6,139.6 426.6,135.5 429.8,133.6 433,132.4 436.1,129.8 439.3,127.1 440.9,126.4 442.1,122.7 443.2,119.4 444.4,118.8 445.5,114.5 446.7,112.5 448.5,109.6 450.6,109 451.2,111.8 451.5,111.9 451.9,114.3 452.3,118 452.7,121.7 453.1,123.8 453.4,124.7 453.6,128.4 453.9,128.6 454.1,132.3 454.3,136.1 454.5,137 454.8,137.4 455.1,132.9 455.5,130.5 455.8,129.5 456.1,126.5 456.5,123.9 457,121.1 457.7,118 458.3,118.8 458.9,115.2 459.7,111.9 460.5,110.5 461.3,107.1 462.1,106.4 462.9,101.2 463.7,100 465.2,99 466.6,94.7 468.1,93.5 469.5,91.4 471.4,88.1 473.6,86.9 475.9,84.3 478.1,79.7" stroke="#2cb040" stroke-width="1.5" fill="none" stroke-linejoin="round"/>
<text x="408.8" y="122.5" font-size="13.5" text-anchor="middle" font-family='"Liberation Serif", serif' fill="#000" stroke="#000" stroke-width="0.0">4</text>
<text x="423.4" y="149.5" font-size="13.5" text-anchor="middle" font-family='"Liberation Serif", serif' fill="#000" stroke="#000" stroke-width="0.0">3</text>
<line x1="459" y1="81.1" x2="443.1" y2="92.9" stroke="#444" stroke-width="0.7"/>
<polyline points="444.4,88.9 442.8,93.1 447,92.6" stroke="#444" stroke-width="0.7" fill="none" stroke-linejoin="round"/>
<line x1="474.9" y1="98" x2="468.6" y2="114.5" stroke="#444" stroke-width="0.7"/>
<polyline points="466.9,110.5 468.4,114.8 471.4,111.4" stroke="#444" stroke-width="0.7" fill="none" stroke-linejoin="round"/>
<text x="-0.5" y="216.2" font-size="21.5" text-anchor="start" font-family='"Liberation Serif", serif' fill="#000" stroke="#000" stroke-width="0.0" font-weight="bold">c</text>
<line x1="34.8" y1="374.8" x2="34.8" y2="371.8" stroke="#666" stroke-width="0.8"/>
<line x1="48.9" y1="374.8" x2="48.9" y2="369.8" stroke="#666" stroke-width="0.8"/>
<line x1="63" y1="374.8" x2="63" y2="371.8" stroke="#666" stroke-width="0.8"/>
<line x1="77" y1="374.8" x2="77" y2="371.8" stroke="#666" stroke-width="0.8"/>
<line x1="91.1" y1="374.8" x2="91.1" y2="369.8" stroke="#666" stroke-width="0.8"/>
<line x1="105.2" y1="374.8" x2="105.2" y2="371.8" stroke="#666" stroke-width="0.8"/>
<line x1="119.2" y1="374.8" x2="119.2" y2="371.8" stroke="#666" stroke-width="0.8"/>
<line x1="133.3" y1="374.8" x2="133.3" y2="369.8" stroke="#666" stroke-width="0.8"/>
<line x1="147.4" y1="374.8" x2="147.4" y2="371.8" stroke="#666" stroke-width="0.8"/>
<line x1="161.4" y1="374.8" x2="161.4" y2="371.8" stroke="#666" stroke-width="0.8"/>
<line x1="175.5" y1="374.8" x2="175.5" y2="369.8" stroke="#666" stroke-width="0.8"/>
<line x1="189.6" y1="374.8" x2="189.6" y2="371.8" stroke="#666" stroke-width="0.8"/>
<line x1="203.7" y1="374.8" x2="203.7" y2="371.8" stroke="#666" stroke-width="0.8"/>
<line x1="217.7" y1="374.8" x2="217.7" y2="369.8" stroke="#666" stroke-width="0.8"/>
<line x1="33.3" y1="364.8" x2="36.3" y2="364.8" stroke="#666" stroke-width="0.8"/>
<line x1="33.3" y1="353.3" x2="38.3" y2="353.3" stroke="#666" stroke-width="0.8"/>
<line x1="33.3" y1="341.8" x2="36.3" y2="341.8" stroke="#666" stroke-width="0.8"/>
<line x1="33.3" y1="330.3" x2="36.3" y2="330.3" stroke="#666" stroke-width="0.8"/>
<line x1="33.3" y1="318.9" x2="36.3" y2="318.9" stroke="#666" stroke-width="0.8"/>
<line x1="33.3" y1="307.4" x2="38.3" y2="307.4" stroke="#666" stroke-width="0.8"/>
<line x1="33.3" y1="295.9" x2="36.3" y2="295.9" stroke="#666" stroke-width="0.8"/>
<line x1="33.3" y1="284.4" x2="36.3" y2="284.4" stroke="#666" stroke-width="0.8"/>
<line x1="33.3" y1="273" x2="36.3" y2="273" stroke="#666" stroke-width="0.8"/>
<line x1="33.3" y1="261.5" x2="38.3" y2="261.5" stroke="#666" stroke-width="0.8"/>
<line x1="33.3" y1="250" x2="36.3" y2="250" stroke="#666" stroke-width="0.8"/>
<line x1="33.3" y1="238.5" x2="36.3" y2="238.5" stroke="#666" stroke-width="0.8"/>
<line x1="33.3" y1="227.1" x2="36.3" y2="227.1" stroke="#666" stroke-width="0.8"/>
<rect x="33.3" y="216" width="198.2" height="158.8" fill="none" stroke="#555" stroke-width="0.9"/>
<text x="48.9" y="389.8" font-size="14" text-anchor="middle" font-family='"Liberation Serif", serif' fill="#000" stroke="#000" stroke-width="0.0">-6</text>
<text x="91.1" y="389.8" font-size="14" text-anchor="middle" font-family='"Liberation Serif", serif' fill="#000" stroke="#000" stroke-width="0.0">-3</text>
<text x="133.3" y="389.8" font-size="14" text-anchor="middle" font-family='"Liberation Serif", serif' fill="#000" stroke="#000" stroke-width="0.0">0</text>
<text x="175.5" y="389.8" font-size="14" text-anchor="middle" font-family='"Liberation Serif", serif' fill="#000" stroke="#000" stroke-width="0.0">3</text>
<text x="217.7" y="389.8" font-size="14" text-anchor="middle" font-family='"Liberation Serif", serif' fill="#000" stroke="#000" stroke-width="0.0">6</text>
<text x="29.5" y="220.6" font-size="14" text-anchor="end" font-family='"Liberation Serif", serif' fill="#000" stroke="#000" stroke-width="0.0">40</text>
<text x="29.5" y="266.5" font-size="14" text-anchor="end" font-family='"Liberation Serif", serif' fill="#000" stroke="#000" stroke-width="0.0">20</text>
<text x="29.5" y="312.4" font-size="14" text-anchor="end" font-family='"Liberation Serif", serif' fill="#000" stroke="#000" stroke-width="0.0">0</text>
<text x="29.5" y="358.3" font-size="14" text-anchor="end" font-family='"Liberation Serif", serif' fill="#000" stroke="#000" stroke-width="0.0">-20</text>
<text x="133.5" y="404" font-size="14.5" text-anchor="middle" font-family='"Liberation Serif", serif' fill="#000" stroke="#000" stroke-width="0.0"><tspan font-style="italic">V</tspan> (V)</text>
<g transform="translate(15.5,307) rotate(-90)"><text x="0" y="0" font-size="15" text-anchor="middle" font-family='"Liberation Serif", serif' fill="#000" stroke="#000" stroke-width="0.0"><tspan font-style="italic">I</tspan> (pA)</text>
</g>
<polyline points="217.7,261.6 216.7,262.4 215.7,262.8 214.8,264.5 213.8,265.4 212.8,266.2 211.8,267.8 210.8,268.3 209.4,269 208,269.7 206.6,271.8 205.2,272.4 203.8,273.7 202.4,273.5 200.9,274.6 199.4,276.6 197.9,276.1 196.4,277 194.9,278.5 193.4,279.5 191.8,281.2 190.2,282.4 188.5,282.5 186.9,284.2 185.2,284.9 183.6,285.8 181.9,287.1 180.1,287.3 178,288.2 176,288.5 174,290 171.9,290.7 169.9,291.8 167.7,292.5 165.4,293.7 163,294.9 160.6,294.7 158.3,295.6 155.9,296.7 154,297.9 152.1,299.4 150.2,300.5 148.3,301.3 146.4,302.6 144.5,302.4 142.2,303.9 140,304.1 137.8,305.8 135.5,305.8 133.3,306.8" stroke="#505050" stroke-width="1.3" fill="none" stroke-linejoin="round"/>
<polyline points="133.3,307.4 128.4,308.2 123.4,308.6 117.7,310.4 112.6,311.2 109.8,311.6 107,313.2 104.2,314.6 101.4,315.6 98.6,316.9 95.8,318.3 93,318.5 90.1,319.1 87.3,320.7 84.4,321.9 81.6,323.6 78.7,324.6 75.9,326.3 72.7,326.2 69.2,328.2 65.6,329.2 62.1,328.9 58.6,331.3 55,331 53.1,333 51.4,333.9 49.7,335.3 48.1,337.4 47.8,337.6 47.8,339.7 47.8,340.6 47.8,342.4 47.8,343.8 50.9,342.3 54.4,341.9 57.8,340 61.6,338 66.1,336.8 70.7,337 74.9,336.6 77.7,335 80.6,334.5 83.4,333 86.3,331.1 89.1,329.9 92,330 95,328.7 98.3,329.9 99.8,331.1 100.1,332.9 100.5,333.6 100.9,335.4 101.3,335.4 101.6,336.7 102,337.9 102.4,339.6 102.8,339.7 103.1,342.1 103.5,343.7 103.9,343.7 104.4,341.4 104.9,341.8 105.4,339.3 105.9,337.7 106.4,336.7 106.9,336.2 107.4,335.1 107.8,333 108.3,332.1 108.8,330.7 109.3,330.8 109.8,328.6 110.3,327.2 110.8,327 111.3,325.8 111.8,323.3 112.3,322.6 112.7,321.8 113.3,320.4 114.6,319.6 115.8,318.5 117.1,317.6 118.3,315.7 119.6,315.1 120.9,312.3 122.2,311 125,310.6 127.7,310.5 130.5,308.3 133.3,308.1" stroke="#505050" stroke-width="1.3" fill="none" stroke-linejoin="round"/>
<polyline points="129.1,308.3 133.1,307.9 136.1,305.4 139.1,304.7 141.4,303.5 143.1,301.7 144.9,301 146.3,299.5 147.3,297.7 148.3,296.6 149.3,294.4 150.3,293.4 151.3,292 151.9,290.7 152.3,289.3 152.8,287.1 153.2,285.3 153.7,284.8 154.1,282.6 154.6,281.9 155,279.7 155.5,279.1 155.9,277.1 156.2,276 156.6,273.8 156.9,272.5 157.3,272.1 157.6,270.6 158,268.6 158.3,267.5 158.7,266 159,263.4 159.4,262 159.7,264.4 160.1,265.8 160.4,266.3 160.8,267.2 161.1,268.8 161.6,270.5 162.5,271.9 163.4,273.8 164.3,275.2 165.2,276.1 166.7,278.7 170.4,279.1 174.3,280 179.9,279.8 184,277.6 186.7,277.1 189.4,274.5 192.5,273.4 197,272.7 201.5,271.2 204.2,269.2 206.6,268.8 208.9,267.6 211.2,265.4 213.4,263.7 215.6,263.5 217.7,261.1" stroke="#505050" stroke-width="1.3" fill="none" stroke-linejoin="round"/>
<polyline points="219.1,260.4 218,261.1 216.9,262.1 215.8,263.9 214.7,265.1 213.6,265.5 212.5,266.6 211.4,266.8 210.2,268 208.9,269.1 207.6,270.1 206.2,270.9 204.9,272.7 203.6,273.3 202.2,274.7 200.7,274.5 199.1,276.8 197.6,276.5 196,278.7 194.5,278.7 192.9,280.2 191.3,281.1 189.6,281.4 187.9,283.6 186.2,284.5 184.5,284.1 182.8,285.8 181.2,287.4 179.1,286.9 177,287.9 174.9,290.2 172.8,290.6 170.7,292 168.6,292.7 166.2,293.1 163.8,294.8 161.4,294.9 159,296.8 156.5,297.6 154.4,297.5 152.5,299.1 150.6,300 148.6,300.7 146.7,301.8 144.7,302.9 142.4,304.4 140.2,304.2 137.9,304.8 135.6,305.7 133.3,307.1" stroke="#e84848" stroke-width="1.3" fill="none" stroke-linejoin="round"/>
<polyline points="133.3,306.5 126.5,309 121.7,308.5 117.4,311.3 114.6,312.2 111.9,312.7 109.2,315.2 106.4,316.2 103.7,318.3 101,318 98.3,319.3 95.6,322.4 92.9,323.9 90.4,324.5 87.9,325.8 85.4,326.6 82.9,328.9 80.3,329.8 77.8,332.1 75.3,333.3 72.8,335 70.3,335.4 67.8,336.7 65.2,338 62.7,338.7 60.2,341.4 57.7,342.7 55.2,343.8 52.4,344.2 49.5,346.9 46.9,348.2 49.3,346.5 51.7,344.6 54.1,344 56.5,342.9 59.1,340.4 64.8,339.6 70.5,338.5 77,338.7 84.9,337.6 87.1,339.1 88.9,340 90.8,340.3 91.9,341.5 92.5,343.3 93.1,345.7 93.7,346.7 94.3,347.5 94.8,350 95.4,351.4 96,352.2 96.6,354.4 97.1,355.5 98.7,357.1 101.7,356.5 102.2,355.7 102.6,355.1 103.1,353.8 103.6,351.1 104.1,350.8 104.5,348.2 105,347.7 105.5,345.6 106,344.5 106.5,342.5 106.9,342.1 107.4,340.1 107.9,338.1 108.4,337.5 108.9,334.6 109.3,333.1 109.9,331.8 110.5,330.4 111,328.9 111.6,328.3 112.2,326.3 112.7,325.7 113.3,325 113.9,321.8 114.5,320.4 115,320.3 115.6,318.6 116.2,317.5 116.7,315.1 117.9,314.8 120.3,312 122.7,312.3 125.1,310.1 128.6,308 133.3,307.4" stroke="#e84848" stroke-width="1.3" fill="none" stroke-linejoin="round"/>
<polyline points="129.1,308.8 133.6,307 137.1,305.5 140.5,303.7 142.5,301.7 144.6,300.3 146.3,299.6 147.5,297.8 148.6,295.8 149.8,294.2 150.9,291.6 151.8,290.3 152.2,289 152.6,287.5 153,286 153.4,283.7 153.8,281.5 154.3,281 154.7,278.8 155.1,277.3 155.5,275.2 155.9,274.1 156.3,272.7 156.8,270 157.2,268.9 157.6,266.6 158,264.5 158.4,263.4 158.8,261.1 159.3,259.6 159.7,259.1 160.1,257.1 160.5,254.8 160.9,253.4 161.4,252.4 161.8,249.4 162.2,248.4 162.9,250.4 163.6,251.9 164.3,254.2 165,255.3 165.7,257.6 166.4,258.5 167.1,259.7 167.8,262.6 168.5,264.2 169.9,265.4 171.3,266.6 172.7,269.4 174.1,270.7 178.5,271.7 187.8,273.2 192.5,272.1 196.6,269.4 201,268.1 205.7,266.6 209.6,265.1 212.8,264.2 216,262 219.1,260.4" stroke="#e84848" stroke-width="1.3" fill="none" stroke-linejoin="round"/>
<polyline points="221.1,258.9 219.9,259.2 218.7,260.3 217.5,261 216.3,263.1 215.1,264.1 213.9,265.2 212.8,266.1 211.6,266.3 210.3,268.3 209,268.7 207.7,270.2 206.3,271.1 205,271.9 203.6,272.3 202.3,273.7 200.7,275.6 199.1,276.2 197.5,277.4 195.9,277.3 194.3,278.4 192.7,279.4 191,280.4 189.2,281.5 187.5,282.2 185.7,283.4 183.9,285.3 182.2,285.4 180.3,286.9 178.2,287.5 176.1,288.8 174,290 171.9,291.1 169.8,291.9 167.6,293.1 165.1,294.4 162.6,294.2 160.1,295.2 157.5,295.9 155.2,297.3 153.2,298.5 151.1,299.2 149.1,301.2 147.1,301.3 145.1,302.6 142.8,304 140.4,305 138,305.4 135.7,306.8 133.3,307.5" stroke="#2a80e8" stroke-width="1.3" fill="none" stroke-linejoin="round"/>
<polyline points="133.3,307.5 126.5,308.8 121.3,308.6 116.9,310.8 114.1,313 111.4,313 108.7,315.8 105.9,316.9 103.2,318.5 100.4,318.8 97.7,319.7 95,321.5 92.4,323.7 89.8,323.8 87.3,325.2 84.7,327.7 82.2,329.2 79.7,329.8 77.1,330.5 74.6,332 72.1,333.5 69.5,335.2 67,337.6 64.4,338.2 61.9,340 59.4,340.9 56.8,342.6 54.4,344.6 52.7,344.6 51,347.8 49.3,348.6 47.6,350.1 45.9,350.2 44.3,353.3 43.3,353.4 46.4,351.3 49.6,350.6 52.7,348.6 56.4,348.4 60.7,347 65.1,345.9 69.4,344.6 73.7,343.4 78.7,344.9 82.4,344.3 83.6,346.3 84.9,347.8 86.1,349.6 87.4,351.7 88.6,353.1 89.9,353 91.1,354.7 92.4,356.9 93.6,357.7 94.9,356.5 96.2,357 97.5,354.9 98.8,353.4 100,352.1 101.3,350.2 102.6,349.3 103.9,348.2 105.2,345.2 105.9,344.7 106.5,342.5 107.1,342.4 107.6,340.6 108.2,338.8 108.8,338.3 109.4,336.1 110,335.1 110.5,333.2 111.1,332 111.7,329.5 112.3,328.6 112.9,327.7 113.4,325.6 114,324.4 114.6,323.4 115.2,320.8 115.8,319.8 116.3,319.5 116.9,317 118.3,315.9 120.1,315.1 121.8,311.8 123.6,311.1 125.4,308.9 128.6,308.7 133.3,307.5" stroke="#2a80e8" stroke-width="1.3" fill="none" stroke-linejoin="round"/>
<polyline points="129.1,309.5 134.4,306.3 138.6,304.6 141.8,303.7 144.3,300.9 146.3,299.3 147.4,296.2 148.5,294.2 149.6,293.1 150.7,290.5 151.7,288.6 152.1,286.9 152.5,284.6 152.9,282.6 153.4,280.4 153.8,277.6 154.2,275.9 154.6,274.9 155,272.4 155.5,269.3 155.9,267.6 156.4,265.8 156.9,263.7 157.4,261.5 157.9,260.3 158.4,257.9 158.9,256 159.4,254.1 159.9,251.2 160.5,250.2 161,247.9 161.5,245 162.4,242.7 163.3,241.5 164.2,238.6 165.1,236.6 166,235.6 166.8,233.3 167.6,236.6 168.4,238.2 169.2,240.8 170,242.9 170.8,244 171.6,245.8 172.4,249 173.3,250.7 174.1,252.3 175,254.4 175.8,257.2 176.6,258.4 177.5,261.4 178.3,262.1 182.4,264.4 189.6,266.1 200.7,266.7 207.8,266.9 212.7,265 215.8,262.3 218.4,259.9 221.1,257.8" stroke="#2a80e8" stroke-width="1.3" fill="none" stroke-linejoin="round"/>
<polyline points="215.9,260.5 215,260.6 214.2,261.7 213.4,262.2 212.5,264.3 211.7,265.3 210.8,265.5 209.7,266.6 208.5,268.2 207.3,268.6 206,270 204.8,270.4 203.6,272.5 202.4,273.3 201,273.2 199.6,275 198.2,276.2 196.8,276.3 195.4,277.6 194,279.3 192.6,279.7 190.9,280.5 189.2,282.2 187.5,282.4 185.8,284.2 184.1,284.9 182.4,286.2 180.6,287 178.6,286.7 176.5,288.6 174.5,288.6 172.5,290.5 170.4,291.2 168.4,291.7 166,292.9 163.5,294.8 161.1,294.9 158.6,295.8 156.2,297.4 154.2,298.5 152.3,298.2 150.4,299.8 148.5,301.3 146.7,301.8 144.8,303.2 142.5,303.2 140.2,304.6 137.9,306.2 135.6,305.9 133.3,308.1" stroke="#2ea860" stroke-width="1.3" fill="none" stroke-linejoin="round"/>
<polyline points="133.3,307.4 127.4,307.9 122.6,309.3 118.6,309.3 115.6,312.3 113.2,311.5 110.8,313.3 108.4,314.3 106.1,315.5 103.7,317.9 101.3,317.8 98.9,319.3 96.5,321.5 94.1,321.3 91.9,323.3 89.7,323.9 87.5,326.4 85.3,326.4 83.1,329 81,330.1 78.8,331.2 76.6,332.5 74.4,332.6 72.2,334.5 70.1,335.8 67.9,335.7 65.7,337 63.5,338.9 61.3,340.5 59.1,340.6 57,342.2 54.8,343.8 53.2,345.1 51.7,346.2 50.3,347.2 48.8,349.1 47.3,350.7 50.8,349.7 57.3,349.6 64.4,349.6 72,349.2 77.2,348.9 79.5,349.8 81.9,352.6 84.2,352.2 86.6,354.4 88.9,354.5 91.9,355.6 95.1,357.9 96.3,356.3 97.1,355.2 97.9,354.7 98.8,351.9 99.6,351.3 100.4,349.5 101.3,349.9 102.1,348.4 102.9,345.8 103.8,345.9 104.6,344.5 105.4,343.4 106.2,341.1 107.1,340.9 107.7,340 108.2,338.8 108.7,335.9 109.2,336.4 109.7,335 110.2,333.4 110.7,331.7 111.1,329.9 111.6,328.3 112.1,328.1 112.6,326.5 113.1,326 113.6,324.3 114.1,324 114.6,321.3 115.1,320.5 115.6,319 116.1,317.4 116.6,316.2 117,314.6 118.6,313.9 120.4,314 122.2,312.3 124,310.5 125.8,310.3 129.2,308.7 133.3,307.6" stroke="#2ea860" stroke-width="1.3" fill="none" stroke-linejoin="round"/>
<polyline points="129.1,309.2 134.3,307.6 138.5,304.8 141.7,303.5 144.2,300.9 146.2,299.6 147.3,296.3 148.4,294.7 149.5,293.3 150.6,291.7 151.6,288.4 151.9,286.3 152.2,285.1 152.5,283.5 152.8,280 153.1,278.1 153.4,276.8 153.7,275.3 154,272.2 154.3,269.9 154.6,268.9 154.9,266.8 155.2,263.9 155.5,262.1 155.9,259.8 156.3,258.2 156.7,256.8 157.2,253.6 157.6,251.8 158.1,249.7 158.5,248.5 159,246.5 159.4,243.4 159.8,241.5 160.3,240.8 160.7,238.8 161.7,236.6 162.7,233.8 163.7,232.4 164.7,230.5 165.6,227.9 166.7,227.9 167.9,230.8 169,233.4 170.2,235.3 171.3,237.1 172.5,239.1 173.6,241.3 174.8,243.5 176,245.2 177.2,247.4 178.3,249.4 179.5,251.6 180.7,252.9 181.9,254.6 183.1,257.3 186.6,259.5 196.4,260.3 206.8,261.9 215.9,260.5" stroke="#2ea860" stroke-width="1.3" fill="none" stroke-linejoin="round"/>
<polyline points="217.2,252.7 216.4,255.4 215.7,255.4 215,257.4 214.3,257.2 213.6,259.9 212.9,259.7 212.2,261.1 211.5,262 210.8,262.9 209.6,265.2 208.4,266.2 207.3,266.7 206.1,268.5 204.9,269.7 203.7,270.9 202.5,271 201.1,272.1 199.6,273.3 198.1,275.4 196.6,275.3 195.1,277.1 193.6,278.7 192.1,279.4 190.3,280.6 188.5,282.2 186.7,282.6 184.9,284 183.1,284.8 181.3,285.3 179.1,286.8 176.9,288.3 174.7,288.6 172.4,289.5 170.2,291.4 167.9,291.8 165.2,294.3 162.4,295.1 159.6,296.1 156.9,296 154.5,297.4 152.4,298.5 150.2,300.3 148.1,301 146,301.5 143.7,303.8 141.1,304.8 138.5,306 135.9,306.4 133.3,306.9" stroke="#b07ae6" stroke-width="1.3" fill="none" stroke-linejoin="round"/>
<polyline points="133.3,307.6 127.6,308.6 122.8,308.4 118.9,310.3 115.9,311.2 113.6,312.3 111.4,313.9 109.1,314.4 106.9,315.1 104.6,317.9 102.3,318.1 100.1,319.9 97.8,320.2 95.6,321.4 93.3,323.8 91.2,324.8 89.1,325.1 87,325.6 84.8,326.9 82.7,328 80.6,330.6 78.4,331.3 76.3,332 74.2,333.6 72.1,335.1 70,334.8 67.9,336.6 65.8,338.2 63.7,339.3 61.6,340 59.5,341 57.4,342.1 55.3,344.2 53.8,344.1 52.7,345.7 51.5,348 50.4,349.4 49.2,350 48.1,351.6 46.9,351.5 45.8,354.5 44.8,354 50.3,354.5 55.9,352.4 61.9,352.5 68.3,352.5 73.2,351.6 78,353.7 82.9,353.5 89.7,355 94.3,354.7 95.3,352.8 96.3,352.4 97.3,350.4 98.3,348.9 99.3,347.8 100,347.9 100.5,345.3 101.1,345 101.7,343.4 102.3,341.3 102.9,340.1 103.4,340.4 104,339.2 104.6,336.7 105.2,336.1 105.8,334.3 106.3,333.2 106.9,331.3 107.5,330.4 108.1,328.9 108.7,327.9 109.2,327.3 109.8,326.5 110.4,325.7 111,323.1 111.6,322.6 112.2,321.4 112.7,320.6 113.3,319.3 113.9,317.7 114.5,316.2 115.2,315.7 117.3,314.9 119.4,312.8 121.6,310.9 123.7,310.5 125.8,308.5 129.3,309.1 133.3,306.8" stroke="#b07ae6" stroke-width="1.3" fill="none" stroke-linejoin="round"/>
<polyline points="129.1,308.1 133.5,307.8 136.8,306.4 140.2,304.9 142.2,302.3 144.2,300.5 146,298.7 147,297.6 148,296 148.9,294.3 149.9,293 150.9,291.3 151.7,290.3 152.1,288.9 152.5,285.9 153,284.4 153.4,282.5 153.8,281.2 154.2,279.9 154.6,278.9 155.1,276.2 155.5,275.1 155.9,272.9 156.3,271.4 156.7,269.8 157.2,268.4 157.6,266.5 158,265.5 158.5,263.4 158.9,262.1 159.4,260.3 159.8,258.1 160.3,256.6 160.7,255.3 161.1,253.8 161.6,252.8 162,250.2 162.5,249.3 163,247.7 163.9,245.3 164.8,244.3 165.7,242.3 166.6,241.5 167.5,239 168.4,237 169.9,238.9 171.4,240.2 173,242.2 174.5,243.6 176,245.6 177.6,247.4 178.8,248.1 180.1,250.1 181.4,251.3 183,253.8 189,255.3 195.5,255.9 205.5,255.8 211.6,255.5 217.2,254.1" stroke="#b07ae6" stroke-width="1.3" fill="none" stroke-linejoin="round"/>
<polyline points="225,238.3 224.1,239.6 223.1,241.1 222.1,242.5 221.1,244 220.2,245.1 219.2,247.1 218.2,248 217.2,250.4 216.2,251.4 215.3,252.8 214.3,254.6 213.3,255 212.3,257.2 211.4,257.9 210.4,259 209.4,261.6 208.4,262 207.5,263.6 206.3,265.3 204.9,267.7 203.4,268.5 202,269.6 200.6,271.6 199.1,273.2 197.7,274.5 196.1,276 193.7,276.5 191.4,278.6 189,279.9 186.6,281 184.3,281.9 181.9,284.3 179.4,286.1 176.8,286 174.3,287.6 171.7,289.1 169.2,290.9 166.2,292.8 163,294.3 159.9,295.4 156.8,296.5 153.9,298.5 151.1,298.9 148.2,300.2 145.4,302.7 142.4,302.8 139.4,304.7 136.3,305.4 133.3,307.4" stroke="#d4a020" stroke-width="1.3" fill="none" stroke-linejoin="round"/>
<polyline points="133.3,308.3 124.9,307.7 121.2,309.2 118.9,310.1 116.6,311.8 114.3,311.9 112,313.9 109.7,314.8 107.4,315.8 105,318 102.7,319.4 100.4,321.4 98.1,321.4 95.8,324.2 93.5,324.9 91.5,326.7 89.5,326.8 87.4,328.7 85.4,330 83.4,331.3 81.3,332 79.3,333 77.3,335.6 75.2,335.9 73.2,337.6 71.2,339 69.1,339.8 67.1,342.7 65.1,343.8 63.1,344.8 61.2,346.5 59.4,347.9 57.5,349.4 55.6,349.3 53.7,350.5 51.9,352.1 50,353.6 48.1,355.8 46.4,357.3 45,358.5 43.7,360.6 42.3,361.8 41,362.4 39.6,363.9 40.4,363.2 42.8,362.1 45.1,361.7 47.5,358.8 49.8,358.4 52.2,357 54.6,355.9 60.6,356.9 65.7,355.9 69.4,354.5 73.1,354.9 76.9,352.1 80.6,351.1 84.3,349.9 88,349.7 90.1,347.1 90.9,346.4 91.8,345.3 92.6,344.8 93.4,342.4 94.2,341.8 95,340.1 95.9,337.6 96.7,337.3 97.5,334.9 98.3,334.5 99.2,333.6 100.2,331.7 101.4,330.8 102.7,329.4 103.9,327 105.1,325.6 106.4,325.3 107.6,322.8 108.8,321.8 110.1,321.3 111.3,320 112.5,317.4 113.8,315.6 115,314.4 116.2,313.5 118.1,313.2 121.4,310.6 124.8,310.7 128.8,308 133.3,308.2" stroke="#d4a020" stroke-width="1.3" fill="none" stroke-linejoin="round"/>
<polyline points="129.1,308.3 132.9,307.4 135.9,305.9 138.7,305.7 141.1,303.3 142.8,301.8 144.4,300.9 146.1,299.5 147.2,298.5 148.4,296.9 149.6,295.2 150.8,293.4 151.9,292.5 153.1,291.3 153.6,290.1 154.1,288 154.7,287.3 155.2,286.3 155.8,284.2 156.3,282.8 156.9,280.9 157.4,280.2 158,278.4 158.5,277.5 159.1,275.9 159.6,275.2 160.1,273.2 160.7,272.2 161.2,270.5 161.6,269.3 162.1,267.2 162.6,266.4 163,264.9 163.5,263.5 163.9,261.8 164.4,260.8 164.9,258.8 165.3,257.5 165.8,256.7 166.3,254.9 166.7,253.4 167.2,253 167.7,251 168.1,249.8 168.8,248.3 170.1,246.8 171.4,244.6 172.7,243.5 174,242.9 175.2,241.9 177.4,240.1 182.2,241.8 187,243.5 192.1,244.1 200.3,244 207.8,242.1 212.1,242.1 216.4,240.5 220.7,240 225,237.5" stroke="#d4a020" stroke-width="1.3" fill="none" stroke-linejoin="round"/>
<text x="164.4" y="328.5" font-size="11.3" text-anchor="middle" font-family='"Liberation Serif", serif' fill="#000" stroke="#000" stroke-width="0.0"><tspan font-style="italic">f</tspan> (Hz)</text>
<line x1="133.4" y1="337.2" x2="144.7" y2="337.2" stroke="#505050" stroke-width="1.3"/>
<text x="152" y="340.8" font-size="10.8" text-anchor="start" font-family='"Liberation Serif", serif' fill="#000" stroke="#000" stroke-width="0.0">0.008</text>
<line x1="185.4" y1="337.2" x2="196.7" y2="337.2" stroke="#e84848" stroke-width="1.3"/>
<text x="204" y="340.8" font-size="10.8" text-anchor="start" font-family='"Liberation Serif", serif' fill="#000" stroke="#000" stroke-width="0.0">0.016</text>
<line x1="133.4" y1="350.4" x2="144.7" y2="350.4" stroke="#2a80e8" stroke-width="1.3"/>
<text x="152" y="354.1" font-size="10.8" text-anchor="start" font-family='"Liberation Serif", serif' fill="#000" stroke="#000" stroke-width="0.0">0.023</text>
<line x1="185.4" y1="350.4" x2="196.7" y2="350.4" stroke="#2ea860" stroke-width="1.3"/>
<text x="204" y="354.1" font-size="10.8" text-anchor="start" font-family='"Liberation Serif", serif' fill="#000" stroke="#000" stroke-width="0.0">0.032</text>
<line x1="133.4" y1="363.7" x2="144.7" y2="363.7" stroke="#b07ae6" stroke-width="1.3"/>
<text x="152" y="367.3" font-size="10.8" text-anchor="start" font-family='"Liberation Serif", serif' fill="#000" stroke="#000" stroke-width="0.0">0.040</text>
<line x1="185.4" y1="363.7" x2="196.7" y2="363.7" stroke="#d4a020" stroke-width="1.3"/>
<text x="204" y="367.3" font-size="10.8" text-anchor="start" font-family='"Liberation Serif", serif' fill="#000" stroke="#000" stroke-width="0.0">0.045</text>
<polyline points="59.7,220.4 59.7,283.4 139.3,283.4" stroke="#666" stroke-width="0.7" fill="none" stroke-linejoin="round"/>
<line x1="87.4" y1="283.4" x2="87.4" y2="281.4" stroke="#666" stroke-width="0.7"/>
<line x1="93.8" y1="283.4" x2="93.8" y2="281.4" stroke="#666" stroke-width="0.7"/>
<line x1="100.2" y1="283.4" x2="100.2" y2="281.4" stroke="#666" stroke-width="0.7"/>
<line x1="106.6" y1="283.4" x2="106.6" y2="280.4" stroke="#666" stroke-width="0.7"/>
<line x1="113" y1="283.4" x2="113" y2="281.4" stroke="#666" stroke-width="0.7"/>
<line x1="119.4" y1="283.4" x2="119.4" y2="281.4" stroke="#666" stroke-width="0.7"/>
<line x1="125.8" y1="283.4" x2="125.8" y2="281.4" stroke="#666" stroke-width="0.7"/>
<line x1="132.2" y1="283.4" x2="132.2" y2="280.4" stroke="#666" stroke-width="0.7"/>
<line x1="59.7" y1="280.4" x2="61.7" y2="280.4" stroke="#666" stroke-width="0.7"/>
<line x1="59.7" y1="276.9" x2="61.7" y2="276.9" stroke="#666" stroke-width="0.7"/>
<line x1="59.7" y1="273.4" x2="61.7" y2="273.4" stroke="#666" stroke-width="0.7"/>
<line x1="59.7" y1="269.8" x2="61.7" y2="269.8" stroke="#666" stroke-width="0.7"/>
<line x1="59.7" y1="266.3" x2="62.7" y2="266.3" stroke="#666" stroke-width="0.7"/>
<line x1="59.7" y1="262.8" x2="61.7" y2="262.8" stroke="#666" stroke-width="0.7"/>
<line x1="59.7" y1="259.2" x2="61.7" y2="259.2" stroke="#666" stroke-width="0.7"/>
<line x1="59.7" y1="255.7" x2="61.7" y2="255.7" stroke="#666" stroke-width="0.7"/>
<line x1="59.7" y1="252.2" x2="61.7" y2="252.2" stroke="#666" stroke-width="0.7"/>
<line x1="59.7" y1="248.7" x2="61.7" y2="248.7" stroke="#666" stroke-width="0.7"/>
<line x1="59.7" y1="245.1" x2="61.7" y2="245.1" stroke="#666" stroke-width="0.7"/>
<line x1="59.7" y1="241.6" x2="61.7" y2="241.6" stroke="#666" stroke-width="0.7"/>
<line x1="59.7" y1="238.1" x2="61.7" y2="238.1" stroke="#666" stroke-width="0.7"/>
<line x1="59.7" y1="234.5" x2="61.7" y2="234.5" stroke="#666" stroke-width="0.7"/>
<line x1="59.7" y1="231" x2="62.7" y2="231" stroke="#666" stroke-width="0.7"/>
<line x1="59.7" y1="227.5" x2="61.7" y2="227.5" stroke="#666" stroke-width="0.7"/>
<line x1="59.7" y1="223.9" x2="61.7" y2="223.9" stroke="#666" stroke-width="0.7"/>
<text x="57.2" y="236" font-size="12.5" text-anchor="end" font-family='"Liberation Serif", serif' fill="#000" stroke="#000" stroke-width="0.0">3</text>
<text x="57.2" y="271" font-size="12.5" text-anchor="end" font-family='"Liberation Serif", serif' fill="#000" stroke="#000" stroke-width="0.0">2</text>
<text x="106" y="296.3" font-size="12" text-anchor="middle" font-family='"Liberation Serif", serif' fill="#000" stroke="#000" stroke-width="0.0">0.02</text>
<text x="131.6" y="296.3" font-size="12" text-anchor="middle" font-family='"Liberation Serif", serif' fill="#000" stroke="#000" stroke-width="0.0">0.04</text>
<text x="102.1" y="305.3" font-size="12" text-anchor="middle" font-family='"Liberation Serif", serif' fill="#000" stroke="#000" stroke-width="0.0"><tspan font-style="italic">f</tspan> (Hz)</text>
<g transform="translate(49.8,249.6) rotate(-90)"><text x="0" y="0" font-size="13.5" text-anchor="middle" font-family='"Liberation Serif", serif' fill="#000" stroke="#000" stroke-width="0.0">|<tspan font-style="italic">V</tspan><tspan font-size="9" dy="2">c</tspan><tspan dy="-2"> | (V)</tspan></text>
</g>
<text x="66" y="228.8" font-size="14" text-anchor="start" font-family='"Liberation Serif", serif' fill="#000" stroke="#000" stroke-width="0.0"><tspan font-style="italic">V</tspan><tspan font-size="9" dy="2">c</tspan><tspan dy="-2"> ~ </tspan><tspan font-style="italic">f</tspan><tspan font-size="9.5" dy="-5" dx="1.5">β</tspan></text>
<line x1="73.8" y1="270" x2="135.2" y2="223.3" stroke="#f05050" stroke-width="0.8"/>
<line x1="75.6" y1="276.5" x2="140" y2="233.3" stroke="#3050e8" stroke-width="0.8"/>
<circle cx="75.6" cy="269.5" r="2.6" fill="none" stroke="#f05050" stroke-width="0.8"/><circle cx="100.4" cy="253.5" r="2.6" fill="none" stroke="#f05050" stroke-width="0.8"/><circle cx="112.3" cy="242.9" r="2.6" fill="none" stroke="#f05050" stroke-width="0.8"/><circle cx="123.9" cy="231.9" r="2.6" fill="none" stroke="#f05050" stroke-width="0.8"/><circle cx="131.6" cy="227.5" r="2.6" fill="none" stroke="#f05050" stroke-width="0.8"/><rect x="73.8" y="273.3" width="4.6" height="4.6" fill="none" stroke="#555" stroke-width="0.8"/><rect x="98.1" y="257.7" width="4.6" height="4.6" fill="none" stroke="#555" stroke-width="0.8"/><rect x="110" y="247.6" width="4.6" height="4.6" fill="none" stroke="#555" stroke-width="0.8"/><rect x="121.9" y="241.1" width="4.6" height="4.6" fill="none" stroke="#555" stroke-width="0.8"/><rect x="129.3" y="236.6" width="4.6" height="4.6" fill="none" stroke="#555" stroke-width="0.8"/><rect x="132.9" y="228.3" width="4.6" height="4.6" fill="none" stroke="#555" stroke-width="0.8"/><g transform="translate(97.5,247) rotate(-36)"><text x="0" y="0" font-size="11.5" text-anchor="middle" font-family='"Liberation Serif", serif' fill="#f03030" stroke="#f03030" stroke-width="0.0">β = 0.32</text>
</g>
<g transform="translate(136.5,255) rotate(-37)"><text x="0" y="0" font-size="11.5" text-anchor="middle" font-family='"Liberation Serif", serif' fill="#2040f0" stroke="#2040f0" stroke-width="0.0">β = 0.29</text>
</g>
<rect x="99" y="273.3" width="3" height="3" fill="none" stroke="#555" stroke-width="0.6"/><text x="103" y="277.5" font-size="7.5" text-anchor="start" font-family='"Liberation Serif", serif' fill="#444" stroke="#444" stroke-width="0.0">+<tspan font-style="italic">V</tspan><tspan font-size="6" dy="1.5">c</tspan></text>
<circle cx="121" cy="274.8" r="1.6" fill="none" stroke="#f05050" stroke-width="0.6"/><text x="123.5" y="277.5" font-size="7.5" text-anchor="start" font-family='"Liberation Serif", serif' fill="#444" stroke="#444" stroke-width="0.0">-<tspan font-style="italic">V</tspan><tspan font-size="6" dy="1.5">c</tspan></text>
<text x="254.5" y="215.9" font-size="21.5" text-anchor="start" font-family='"Liberation Serif", serif' fill="#000" stroke="#000" stroke-width="0.0">d</text>
<defs>
<linearGradient id="cb1" x1="0" y1="1" x2="0" y2="0">
<stop offset="0" stop-color="#1a0530"/><stop offset="0.2" stop-color="#4a1a78"/><stop offset="0.45" stop-color="#9a4a60"/><stop offset="0.6" stop-color="#c87818"/><stop offset="0.82" stop-color="#e8c030"/><stop offset="1" stop-color="#fffce0"/></linearGradient>
<linearGradient id="kp" x1="0" y1="0" x2="1" y2="0">
<stop offset="0" stop-color="#5a2290"/><stop offset="0.25" stop-color="#6a2a8a"/><stop offset="0.272" stop-color="#9a4a68"/><stop offset="0.3" stop-color="#e4b848"/><stop offset="0.335" stop-color="#f8ea98"/><stop offset="0.42" stop-color="#fff6d2"/><stop offset="0.7" stop-color="#fff3c6"/><stop offset="0.765" stop-color="#f4dc78"/><stop offset="0.785" stop-color="#d89048"/><stop offset="0.81" stop-color="#b86a40"/><stop offset="1" stop-color="#b86a40"/></linearGradient>
<filter id="blr" x="-10%" y="-10%" width="120%" height="120%"><feGaussianBlur stdDeviation="0.7"/></filter>
<clipPath id="afmclip"><rect x="282.2" y="215.3" width="123.7" height="52.2"/></clipPath>
<clipPath id="kpclip"><rect x="282.2" y="268.9" width="123.6" height="52.4"/></clipPath>
</defs>
<defs>
<filter id="texO" x="0" y="0" width="100%" height="100%" color-interpolation-filters="sRGB">
<feTurbulence type="fractalNoise" baseFrequency="0.16 0.3" numOctaves="3" seed="4"/>
<feColorMatrix type="matrix" values="1 0 0 0 0  1 0 0 0 0  1 0 0 0 0  0 0 0 0 1"/>
<feComponentTransfer><feFuncR type="linear" slope="2.6" intercept="-0.8"/><feFuncG type="linear" slope="2.6" intercept="-0.8"/><feFuncB type="linear" slope="2.6" intercept="-0.8"/></feComponentTransfer>
<feComponentTransfer><feFuncR type="table" tableValues="0.62 0.70 0.73 0.75 0.76 0.77 0.78 0.80 0.93 1.0"/><feFuncG type="table" tableValues="0.32 0.40 0.43 0.45 0.46 0.47 0.48 0.52 0.78 0.95"/><feFuncB type="table" tableValues="0.02 0.03 0.04 0.04 0.05 0.05 0.05 0.07 0.25 0.65"/></feComponentTransfer>
</filter>
<filter id="texP" x="0" y="0" width="100%" height="100%" color-interpolation-filters="sRGB">
<feTurbulence type="fractalNoise" baseFrequency="0.18 0.32" numOctaves="3" seed="9"/>
<feColorMatrix type="matrix" values="1 0 0 0 0  1 0 0 0 0  1 0 0 0 0  0 0 0 0 1"/>
<feComponentTransfer><feFuncR type="linear" slope="2.6" intercept="-0.8"/><feFuncG type="linear" slope="2.6" intercept="-0.8"/><feFuncB type="linear" slope="2.6" intercept="-0.8"/></feComponentTransfer>
<feComponentTransfer><feFuncR type="table" tableValues="0.12 0.18 0.21 0.23 0.25 0.26 0.28 0.32 0.55 0.85"/><feFuncG type="table" tableValues="0.03 0.05 0.06 0.07 0.08 0.08 0.09 0.12 0.28 0.55"/><feFuncB type="table" tableValues="0.26 0.36 0.40 0.43 0.45 0.46 0.47 0.46 0.35 0.25"/></feComponentTransfer>
</filter>
<filter id="texY" x="0" y="0" width="100%" height="100%" color-interpolation-filters="sRGB">
<feTurbulence type="fractalNoise" baseFrequency="0.12 0.18" numOctaves="2" seed="13"/>
<feColorMatrix type="matrix" values="1 0 0 0 0  1 0 0 0 0  1 0 0 0 0  0 0 0 0 1"/>
<feComponentTransfer><feFuncR type="linear" slope="2.6" intercept="-0.8"/><feFuncG type="linear" slope="2.6" intercept="-0.8"/><feFuncB type="linear" slope="2.6" intercept="-0.8"/></feComponentTransfer>
<feComponentTransfer><feFuncR type="table" tableValues="0.96 0.99 1 1 1"/><feFuncG type="table" tableValues="0.86 0.92 0.96 0.98 1"/><feFuncB type="table" tableValues="0.45 0.62 0.78 0.86 0.95"/></feComponentTransfer>
</filter>
</defs><g clip-path="url(#afmclip)"><rect x="282.2" y="215.3" width="37" height="52.2" fill="#000" filter="url(#texO)"/><rect x="319.2" y="215.3" width="56.7" height="52.2" fill="#000" filter="url(#texP)"/><rect x="375.9" y="215.3" width="30" height="52.2" fill="#000" filter="url(#texO)"/><line x1="319.3" y1="215.3" x2="319.3" y2="267.5" stroke="#e8b030" stroke-width="1.0"/>
<line x1="376" y1="215.3" x2="376" y2="267.5" stroke="#f0c040" stroke-width="1.0"/>
</g>
<rect x="282.2" y="215.3" width="123.7" height="52.2" fill="none" stroke="#222" stroke-width="0.5"/>
<defs><linearGradient id="kpR" x1="0" y1="0" x2="0" y2="1"><stop offset="0" stop-color="#c07a3a"/><stop offset="0.55" stop-color="#b06448"/><stop offset="0.8" stop-color="#84388a"/><stop offset="1" stop-color="#6a2a90"/></linearGradient>
<filter id="blr2" x="-30%" y="-30%" width="160%" height="160%"><feGaussianBlur stdDeviation="2"/></filter>
<linearGradient id="kpL" x1="0" y1="0" x2="0" y2="1"><stop offset="0" stop-color="#4c1c74"/><stop offset="0.5" stop-color="#64288e"/><stop offset="1" stop-color="#6e2e92"/></linearGradient></defs><g clip-path="url(#kpclip)"><rect x="282.2" y="268.9" width="123.6" height="52.4" fill="url(#kp)"/><rect x="282.2" y="268.9" width="31" height="52.4" fill="url(#kpL)"/><rect x="379" y="264" width="30" height="60" fill="url(#kpR)" filter="url(#blr2)"/><rect x="324" y="268.9" width="50" height="52.4" fill="#000" filter="url(#texY)" opacity="0.55"/><ellipse cx="355" cy="276" rx="14" ry="6" fill="#fffef4" opacity="0.7" filter="url(#blr2)"/></g>
<line x1="282.2" y1="279.2" x2="405.8" y2="279.2" stroke="#111" stroke-width="0.9" stroke-dasharray="2.5,1.5"/>
<line x1="282.2" y1="308" x2="405.8" y2="308" stroke="#ee1111" stroke-width="0.9" stroke-dasharray="2.5,1.5"/>
<rect x="376.7" y="269.3" width="28.1" height="25.2" fill="none" stroke="#4a4ae0" stroke-width="0.9" stroke-dasharray="2,1.3"/>
<rect x="413.2" y="225.2" width="14.4" height="41.4" fill="url(#cb1)"/>
<rect x="413.5" y="279.2" width="14.3" height="41.6" fill="url(#cb1)"/>
<line x1="419" y1="228.6" x2="427.6" y2="228.6" stroke="#000" stroke-width="0.3" opacity="0.35"/>
<line x1="419" y1="282.7" x2="427.8" y2="282.7" stroke="#000" stroke-width="0.3" opacity="0.35"/>
<line x1="419" y1="232.1" x2="427.6" y2="232.1" stroke="#000" stroke-width="0.3" opacity="0.35"/>
<line x1="419" y1="286.1" x2="427.8" y2="286.1" stroke="#000" stroke-width="0.3" opacity="0.35"/>
<line x1="419" y1="235.5" x2="427.6" y2="235.5" stroke="#000" stroke-width="0.3" opacity="0.35"/>
<line x1="419" y1="289.6" x2="427.8" y2="289.6" stroke="#000" stroke-width="0.3" opacity="0.35"/>
<line x1="419" y1="239" x2="427.6" y2="239" stroke="#000" stroke-width="0.3" opacity="0.35"/>
<line x1="419" y1="293.1" x2="427.8" y2="293.1" stroke="#000" stroke-width="0.3" opacity="0.35"/>
<line x1="419" y1="242.4" x2="427.6" y2="242.4" stroke="#000" stroke-width="0.3" opacity="0.35"/>
<line x1="419" y1="296.5" x2="427.8" y2="296.5" stroke="#000" stroke-width="0.3" opacity="0.35"/>
<line x1="419" y1="245.9" x2="427.6" y2="245.9" stroke="#000" stroke-width="0.3" opacity="0.35"/>
<line x1="419" y1="300" x2="427.8" y2="300" stroke="#000" stroke-width="0.3" opacity="0.35"/>
<line x1="419" y1="249.3" x2="427.6" y2="249.3" stroke="#000" stroke-width="0.3" opacity="0.35"/>
<line x1="419" y1="303.5" x2="427.8" y2="303.5" stroke="#000" stroke-width="0.3" opacity="0.35"/>
<line x1="419" y1="252.8" x2="427.6" y2="252.8" stroke="#000" stroke-width="0.3" opacity="0.35"/>
<line x1="419" y1="306.9" x2="427.8" y2="306.9" stroke="#000" stroke-width="0.3" opacity="0.35"/>
<line x1="419" y1="256.2" x2="427.6" y2="256.2" stroke="#000" stroke-width="0.3" opacity="0.35"/>
<line x1="419" y1="310.4" x2="427.8" y2="310.4" stroke="#000" stroke-width="0.3" opacity="0.35"/>
<line x1="419" y1="259.7" x2="427.6" y2="259.7" stroke="#000" stroke-width="0.3" opacity="0.35"/>
<line x1="419" y1="313.9" x2="427.8" y2="313.9" stroke="#000" stroke-width="0.3" opacity="0.35"/>
<line x1="419" y1="263.1" x2="427.6" y2="263.1" stroke="#000" stroke-width="0.3" opacity="0.35"/>
<line x1="419" y1="317.3" x2="427.8" y2="317.3" stroke="#000" stroke-width="0.3" opacity="0.35"/>
<text x="420.4" y="222.1" font-size="12" text-anchor="middle" font-family='"Liberation Serif", serif' fill="#000" stroke="#000" stroke-width="0.0">nm</text>
<text x="431.5" y="237.2" font-size="12" text-anchor="start" font-family='"Liberation Serif", serif' fill="#000" stroke="#000" stroke-width="0.0">50</text>
<text x="429.5" y="265.5" font-size="12" text-anchor="start" font-family='"Liberation Serif", serif' fill="#000" stroke="#000" stroke-width="0.0">-50</text>
<text x="420.6" y="277.9" font-size="12" text-anchor="middle" font-family='"Liberation Serif", serif' fill="#000" stroke="#000" stroke-width="0.0">mV</text>
<text x="429.6" y="298.5" font-size="12" text-anchor="start" font-family='"Liberation Serif", serif' fill="#000" stroke="#000" stroke-width="0.0">400</text>
<text x="429.6" y="324" font-size="12" text-anchor="start" font-family='"Liberation Serif", serif' fill="#000" stroke="#000" stroke-width="0.0">300</text>
<line x1="304.6" y1="380" x2="304.6" y2="376" stroke="#666" stroke-width="0.8"/>
<line x1="312.8" y1="380" x2="312.8" y2="377.8" stroke="#666" stroke-width="0.8"/>
<line x1="321.1" y1="380" x2="321.1" y2="377.8" stroke="#666" stroke-width="0.8"/>
<line x1="329.3" y1="380" x2="329.3" y2="377.8" stroke="#666" stroke-width="0.8"/>
<line x1="337.5" y1="380" x2="337.5" y2="377.8" stroke="#666" stroke-width="0.8"/>
<line x1="345.8" y1="380" x2="345.8" y2="376" stroke="#666" stroke-width="0.8"/>
<line x1="354" y1="380" x2="354" y2="377.8" stroke="#666" stroke-width="0.8"/>
<line x1="362.2" y1="380" x2="362.2" y2="377.8" stroke="#666" stroke-width="0.8"/>
<line x1="370.4" y1="380" x2="370.4" y2="377.8" stroke="#666" stroke-width="0.8"/>
<line x1="378.7" y1="380" x2="378.7" y2="377.8" stroke="#666" stroke-width="0.8"/>
<line x1="386.9" y1="380" x2="386.9" y2="376" stroke="#666" stroke-width="0.8"/>
<line x1="395.1" y1="380" x2="395.1" y2="377.8" stroke="#666" stroke-width="0.8"/>
<line x1="403.4" y1="380" x2="403.4" y2="377.8" stroke="#666" stroke-width="0.8"/>
<line x1="411.6" y1="380" x2="411.6" y2="377.8" stroke="#666" stroke-width="0.8"/>
<line x1="419.8" y1="380" x2="419.8" y2="377.8" stroke="#666" stroke-width="0.8"/>
<line x1="303.6" y1="376.7" x2="307.6" y2="376.7" stroke="#666" stroke-width="0.8"/>
<line x1="303.6" y1="373.2" x2="305.8" y2="373.2" stroke="#666" stroke-width="0.8"/>
<line x1="303.6" y1="369.7" x2="305.8" y2="369.7" stroke="#666" stroke-width="0.8"/>
<line x1="303.6" y1="366.3" x2="305.8" y2="366.3" stroke="#666" stroke-width="0.8"/>
<line x1="303.6" y1="362.8" x2="307.6" y2="362.8" stroke="#666" stroke-width="0.8"/>
<line x1="303.6" y1="359.3" x2="305.8" y2="359.3" stroke="#666" stroke-width="0.8"/>
<line x1="303.6" y1="355.8" x2="305.8" y2="355.8" stroke="#666" stroke-width="0.8"/>
<line x1="303.6" y1="352.3" x2="305.8" y2="352.3" stroke="#666" stroke-width="0.8"/>
<line x1="303.6" y1="348.8" x2="307.6" y2="348.8" stroke="#666" stroke-width="0.8"/>
<line x1="303.6" y1="345.4" x2="305.8" y2="345.4" stroke="#666" stroke-width="0.8"/>
<line x1="303.6" y1="341.9" x2="305.8" y2="341.9" stroke="#666" stroke-width="0.8"/>
<line x1="303.6" y1="338.4" x2="305.8" y2="338.4" stroke="#666" stroke-width="0.8"/>
<line x1="303.6" y1="334.9" x2="307.6" y2="334.9" stroke="#666" stroke-width="0.8"/>
<line x1="303.6" y1="331.4" x2="305.8" y2="331.4" stroke="#666" stroke-width="0.8"/>
<rect x="303.6" y="326.4" width="125.19999999999999" height="53.60000000000002" fill="none" stroke="#555" stroke-width="0.8"/>
<text x="304.6" y="392.9" font-size="12.5" text-anchor="middle" font-family='"Liberation Serif", serif' fill="#000" stroke="#000" stroke-width="0.0">0</text>
<text x="345.8" y="392.9" font-size="12.5" text-anchor="middle" font-family='"Liberation Serif", serif' fill="#000" stroke="#000" stroke-width="0.0">5</text>
<text x="386.9" y="392.9" font-size="12.5" text-anchor="middle" font-family='"Liberation Serif", serif' fill="#000" stroke="#000" stroke-width="0.0">10</text>
<text x="428.1" y="392.9" font-size="12.5" text-anchor="middle" font-family='"Liberation Serif", serif' fill="#000" stroke="#000" stroke-width="0.0">15</text>
<text x="300.5" y="339.3" font-size="12.5" text-anchor="end" font-family='"Liberation Serif", serif' fill="#000" stroke="#000" stroke-width="0.0">0.44</text>
<text x="300.5" y="353.2" font-size="12.5" text-anchor="end" font-family='"Liberation Serif", serif' fill="#000" stroke="#000" stroke-width="0.0">0.40</text>
<text x="300.5" y="367.2" font-size="12.5" text-anchor="end" font-family='"Liberation Serif", serif' fill="#000" stroke="#000" stroke-width="0.0">0.36</text>
<text x="300.5" y="381.1" font-size="12.5" text-anchor="end" font-family='"Liberation Serif", serif' fill="#000" stroke="#000" stroke-width="0.0">0.32</text>
<text x="365.9" y="405.9" font-size="12.5" text-anchor="middle" font-family='"Liberation Serif", serif' fill="#000" stroke="#000" stroke-width="0.0">Position (μm)</text>
<g transform="translate(274.5,359.2) rotate(-90)"><text x="0" y="0" font-size="11.5" text-anchor="middle" font-family='"Liberation Serif", serif' fill="#000" stroke="#000" stroke-width="0.0">Potential (V)</text>
</g>
<polyline points="304.6,372.2 305.7,371.1 306.9,370.7 308,370.4 309.1,371 310.3,371.9 311.4,373.1 312.5,373 313.7,372.5 314.8,372.5 315.9,372.6 317.1,371.9 318.2,371.5 319.3,371.9 320.5,370.9 321.6,371.3 322.7,371 323.9,370.9 325,369.3 326.1,369.3 327.3,368.8 328.4,368.8 329.5,369.1 330.7,368 331.8,367 332.9,366.7 334.1,363.9 335.2,362.1 336.3,359.9 337.4,356.6 338.6,354.9 339.7,351.4 340.8,349.5 342,346.7 343.1,344.2 344.2,341.4 345.4,339 346.5,337.7 347.6,335.9 348.8,335.8 349.9,334.3 351,334.2 352.2,332.9 353.3,332.8 354.4,332.9 355.6,332.8 356.7,332.9 357.8,332.6 359,333.3 360.1,332.7 361.2,332.2 362.4,332.8 363.5,331.8 364.6,331.7 365.8,332.2 366.9,332.2 368,332 369.2,331.9 370.3,331.1 371.4,331.7 372.5,332 373.7,332 374.8,331.4 375.9,331.1 377.1,331.9 378.2,332 379.3,332.1 380.5,331.9 381.6,332.7 382.7,332.4 383.9,332.6 385,332.6 386.1,333.3 387.3,333.4 388.4,333.3 389.5,332.7 390.7,333.6 391.8,333.4 392.9,335.3 394.1,337.1 395.2,338.7 396.3,339.4 397.5,341 398.6,343.1 399.7,344.3 400.9,345.8 402,347.1 403.1,348.6 404.3,350.1 405.4,350 406.5,350.6 407.7,351.6 408.8,351.8 409.9,352.9 411.1,353.6 412.2,354.1 413.3,353.4 414.5,354.4 415.6,354.6 416.7,353.8 417.9,354 419,354.5 420.1,354.1 421.3,355.2 422.4,355.1 423.5,355.7 424.7,356.1 425.8,357.1 426.9,357.8 428.1,358.1" stroke="#111" stroke-width="1.2" fill="none" stroke-linejoin="round"/>
<polyline points="304.6,376.1 305.7,377 306.9,376.9 308,375.5 309.1,376.3 310.3,376.2 311.4,375.4 312.5,375.6 313.7,374.5 314.8,374.9 315.9,373.5 317.1,373.9 318.2,373.1 319.3,372.3 320.5,372.1 321.6,371.4 322.7,371.1 323.9,371.4 325,369.7 326.1,369.5 327.3,369.3 328.4,368.9 329.5,367.5 330.7,367.2 331.8,366.2 332.9,365.8 334.1,363.7 335.2,361.3 336.3,358.3 337.4,355.5 338.6,353.1 339.7,349.3 340.8,347.3 342,345.4 343.1,343.9 344.2,343 345.4,342.4 346.5,341 347.6,341 348.8,341.4 349.9,341.4 351,340.6 352.2,341 353.3,339.7 354.4,340 355.6,339.8 356.7,339.6 357.8,339.1 359,338.5 360.1,339 361.2,338.7 362.4,338.2 363.5,338.3 364.6,337.7 365.8,337.5 366.9,337.4 368,336.8 369.2,336.7 370.3,337 371.4,335.7 372.6,336.2 373.7,336.1 374.8,336.3 376,335.8 377.1,335.9 378.2,336.6 379.4,336.9 380.5,337.4 381.6,336.6 382.8,337.6 383.9,337.3 385,337.7 386.2,337.9 387.3,338 388.4,338.3 389.6,338.7 390.7,338.2 391.8,338 392.9,340.4 394.1,343.1 395.2,344.7 396.3,347.7 397.5,349.4 398.6,352.4 399.7,356.1 400.9,360.4 402,362.9 403.1,364.1 404.3,364.9 405.4,365.6 406.5,365.9 407.7,367 408.8,368.1 409.9,368.6 411.1,369.5 412.2,370.3 413.3,369.9 414.5,370 415.6,370.3 416.7,370 417.9,371.3 419,370.8 420.1,370.7 421.3,371.2 422.4,371.6 423.5,371.5 424.7,372.4 425.8,373.1 426.9,373.9 428.1,373.3" stroke="#ee1111" stroke-width="1.2" fill="none" stroke-linejoin="round"/>
<line x1="310.6" y1="333.7" x2="315.7" y2="333.7" stroke="#111" stroke-width="1.2"/>
<text x="317.2" y="336.2" font-size="9.2" text-anchor="start" font-family='"Liberation Serif", serif' fill="#000" stroke="#000" stroke-width="0.0">Line 1</text>
<line x1="310.6" y1="344.8" x2="315.7" y2="344.8" stroke="#ee1111" stroke-width="1.2"/>
<text x="317.2" y="346.4" font-size="9.2" text-anchor="start" font-family='"Liberation Serif", serif' fill="#000" stroke="#000" stroke-width="0.0">Line 2</text>
<path d="M423.4,370 L423.4,361" stroke="#3838ee" stroke-width="2.2"/><path d="M419.6,362 L423.4,355.8 L427.2,362 Z" fill="#3838ee"/>
<defs>
<linearGradient id="gOr" x1="0" y1="0" x2="0" y2="1"><stop offset="0" stop-color="#f3b628"/><stop offset="0.55" stop-color="#f8d890"/><stop offset="1" stop-color="#fdeee2"/></linearGradient>
<linearGradient id="gBl" x1="0" y1="0" x2="0" y2="1"><stop offset="0" stop-color="#f4f5fa"/><stop offset="1" stop-color="#c3cfe9"/></linearGradient>
<linearGradient id="gArR" x1="0" y1="0" x2="1" y2="0"><stop offset="0" stop-color="#1010ff"/><stop offset="0.5" stop-color="#9010d8"/><stop offset="1" stop-color="#e8186e"/></linearGradient>
<linearGradient id="gArL" x1="1" y1="0" x2="0" y2="0"><stop offset="0" stop-color="#1010ff"/><stop offset="0.5" stop-color="#9010d8"/><stop offset="1" stop-color="#e8186e"/></linearGradient>
</defs>
<text x="493.1" y="14.7" font-size="21.5" text-anchor="start" font-family='"Liberation Serif", serif' fill="#000" stroke="#000" stroke-width="0.0">e</text>
<rect x="521" y="28.6" width="22.4" height="23.4" fill="url(#gOr)"/>
<rect x="650" y="28.6" width="22" height="23.4" fill="url(#gOr)"/>
<path d="M543.4,3.2 C550,18 560,24.5 580,25.2 L624,25.2 C640,25 646,23 650,20.5 L650,52 L543.4,52 Z" fill="url(#gBl)"/>
<line x1="543.4" y1="29.3" x2="650" y2="29.3" stroke="#aaa" stroke-width="0.6" stroke-dasharray="1,1"/>
<path d="M543.4,3.2 C550,18 560,24.5 580,25.2 L624,25.2 C640,25 646,23 650,20.5" fill="none" stroke="#333" stroke-width="0.8"/>
<path d="M543.4,11.7 C552,17 562,23.5 580,25 L624,25 C640,24 646,19 650,12.5" fill="none" stroke="#3030e0" stroke-width="0.8" stroke-dasharray="2,1.3"/>
<line x1="543.4" y1="3.2" x2="543.4" y2="48" stroke="#333" stroke-width="0.9"/>
<line x1="650" y1="20.5" x2="650" y2="48" stroke="#888" stroke-width="1.0"/>
<line x1="545.2" y1="25.2" x2="551" y2="25.2" stroke="#666" stroke-width="1.1"/>
<line x1="641.2" y1="25.2" x2="647" y2="25.2" stroke="#666" stroke-width="1.1"/>
<line x1="545.2" y1="29.3" x2="551" y2="29.3" stroke="#666" stroke-width="1.1"/>
<line x1="641.2" y1="29.3" x2="647" y2="29.3" stroke="#666" stroke-width="1.1"/>
<line x1="545.2" y1="34" x2="551" y2="34" stroke="#666" stroke-width="1.1"/>
<line x1="641.2" y1="34" x2="647" y2="34" stroke="#666" stroke-width="1.1"/>
<circle cx="543.4" cy="39.6" r="3.4" fill="#1818ee"/><line x1="541.4" y1="39.6" x2="545.4" y2="39.6" stroke="#fff" stroke-width="1.1"/>
<circle cx="543.4" cy="48.1" r="3.4" fill="#1818ee"/><line x1="541.4" y1="48.1" x2="545.4" y2="48.1" stroke="#fff" stroke-width="1.1"/>
<circle cx="650" cy="39.6" r="3.4" fill="#ee1111"/><line x1="648" y1="39.6" x2="652" y2="39.6" stroke="#fff" stroke-width="1.1"/>
<line x1="650" y1="37.6" x2="650" y2="41.6" stroke="#fff" stroke-width="1.1"/>
<circle cx="650" cy="48.1" r="3.4" fill="#ee1111"/><line x1="648" y1="48.1" x2="652" y2="48.1" stroke="#fff" stroke-width="1.1"/>
<line x1="650" y1="46.1" x2="650" y2="50.1" stroke="#fff" stroke-width="1.1"/>
<path d="M569.4,42 L615,42 L615,38.5 L625,43.3 L615,48.1 L615,44.6 L569.4,44.6 Z" fill="url(#gArR)"/>
<text x="597" y="40.3" font-size="12" text-anchor="middle" font-family='"Liberation Serif", serif' fill="#000" stroke="#000" stroke-width="0.0" font-style="italic">P</text>
<line x1="557.7" y1="10.7" x2="591.4" y2="10.7" stroke="#888" stroke-width="1"/>
<line x1="606.7" y1="10.7" x2="640.5" y2="10.7" stroke="#888" stroke-width="1"/>
<path d="M564.3,5.6 L573,10.7 L564.3,15.8 Z" fill="#fff" stroke="#222" stroke-width="0.8"/><line x1="573" y1="5.6" x2="573" y2="15.8" stroke="#222" stroke-width="0.9"/>
<path d="M633.4,5.6 L625,10.7 L633.4,15.8 Z" fill="#fff" stroke="#222" stroke-width="0.8"/><line x1="625" y1="5.6" x2="625" y2="15.8" stroke="#222" stroke-width="0.9"/>
<rect x="591.4" y="8" width="15.3" height="6.7" fill="#fff" stroke="#4a5a7a" stroke-width="0.8"/>
<rect x="520.7" y="86.2" width="22.5" height="23" fill="url(#gOr)"/>
<rect x="649.2" y="86.2" width="23" height="23" fill="url(#gOr)"/>
<path d="M543.2,76.7 C548,80 555,82.6 570,82.6 L620,82.6 C638,82.6 646,72 649.2,60.1 L649.2,109.2 L543.2,109.2 Z" fill="url(#gBl)"/>
<line x1="543.2" y1="85.1" x2="649.2" y2="85.1" stroke="#aaa" stroke-width="0.6" stroke-dasharray="1,1"/>
<path d="M543.2,76.7 C548,80 555,82.6 570,82.6 L620,82.6 C638,82.6 646,72 649.2,60.1" fill="none" stroke="#333" stroke-width="0.8"/>
<path d="M543.2,67.8 C550,78 558,82 575,82 L625,82 C640,81 646,76 649.2,70.3" fill="none" stroke="#3030e0" stroke-width="0.8" stroke-dasharray="2,1.3"/>
<line x1="543.2" y1="76.7" x2="543.2" y2="105" stroke="#555" stroke-width="0.9"/>
<line x1="649.2" y1="60.1" x2="649.2" y2="105" stroke="#333" stroke-width="0.9"/>
<line x1="545" y1="80.5" x2="551" y2="80.5" stroke="#666" stroke-width="1.1"/>
<line x1="641" y1="80.5" x2="647" y2="80.5" stroke="#666" stroke-width="1.1"/>
<line x1="545" y1="85.1" x2="551" y2="85.1" stroke="#666" stroke-width="1.1"/>
<line x1="641" y1="85.1" x2="647" y2="85.1" stroke="#666" stroke-width="1.1"/>
<line x1="545" y1="90.3" x2="551" y2="90.3" stroke="#666" stroke-width="1.1"/>
<line x1="641" y1="90.3" x2="647" y2="90.3" stroke="#666" stroke-width="1.1"/>
<circle cx="543.2" cy="95.9" r="3.4" fill="#ee1111"/><line x1="541.2" y1="95.9" x2="545.2" y2="95.9" stroke="#fff" stroke-width="1.1"/>
<line x1="543.2" y1="93.9" x2="543.2" y2="97.9" stroke="#fff" stroke-width="1.1"/>
<circle cx="543.2" cy="105.3" r="3.4" fill="#ee1111"/><line x1="541.2" y1="105.3" x2="545.2" y2="105.3" stroke="#fff" stroke-width="1.1"/>
<line x1="543.2" y1="103.3" x2="543.2" y2="107.3" stroke="#fff" stroke-width="1.1"/>
<circle cx="649.2" cy="95.9" r="3.4" fill="#1818ee"/><line x1="647.2" y1="95.9" x2="651.2" y2="95.9" stroke="#fff" stroke-width="1.1"/>
<circle cx="649.2" cy="105.3" r="3.4" fill="#1818ee"/><line x1="647.2" y1="105.3" x2="651.2" y2="105.3" stroke="#fff" stroke-width="1.1"/>
<path d="M624.5,99.7 L579.3,99.7 L579.3,96.2 L569.3,101 L579.3,105.8 L579.3,102.3 L624.5,102.3 Z" fill="url(#gArL)"/>
<text x="596.9" y="97.2" font-size="12" text-anchor="middle" font-family='"Liberation Serif", serif' fill="#000" stroke="#000" stroke-width="0.0" font-style="italic">P</text>
<text x="493.5" y="127.9" font-size="21.5" text-anchor="start" font-family='"Liberation Serif", serif' fill="#000" stroke="#000" stroke-width="0.0">f</text>
<path d="M504.3,156.4 C518,153 527,146 531.5,132 L531.5,193.5 L504.3,193.5 Z" fill="url(#gBl)"/>
<rect x="531.5" y="156.4" width="24.8" height="37.1" fill="url(#gOr)"/>
<path d="M504.3,156.4 C518,153 527,146 531.5,132" fill="none" stroke="#2a3a6a" stroke-width="0.8"/>
<line x1="504.3" y1="159.9" x2="531.5" y2="159.9" stroke="#999" stroke-width="0.6" stroke-dasharray="2,1"/>
<line x1="531.5" y1="132" x2="531.5" y2="193.5" stroke="#222" stroke-width="0.9"/>
<line x1="521" y1="155.2" x2="526.8" y2="155.2" stroke="#555" stroke-width="1.0"/>
<line x1="521" y1="159.9" x2="526.8" y2="159.9" stroke="#555" stroke-width="1.0"/>
<line x1="521" y1="165.2" x2="526.8" y2="165.2" stroke="#555" stroke-width="1.0"/>
<circle cx="537.3" cy="155.2" r="1.9" fill="#000"/><circle cx="542.3" cy="155.2" r="1.9" fill="#000"/><circle cx="547.3" cy="155.2" r="1.9" fill="#000"/><circle cx="552.4" cy="155.2" r="1.9" fill="#000"/><circle cx="531.5" cy="171.5" r="3.6" fill="#1818ee"/><line x1="529.3" y1="171.5" x2="533.7" y2="171.5" stroke="#fff" stroke-width="1.1"/>
<circle cx="531.5" cy="180.8" r="3.6" fill="#1818ee"/><line x1="529.3" y1="180.8" x2="533.7" y2="180.8" stroke="#fff" stroke-width="1.1"/>
<path d="M524.5,175.6 L512.8,175.6 L512.8,172.8 L504.8,176.8 L512.8,180.8 L512.8,178 L524.5,178 Z" fill="url(#gArL)"/>
<text x="515.2" y="172.6" font-size="12" text-anchor="middle" font-family='"Liberation Serif", serif' fill="#000" stroke="#000" stroke-width="0.0" font-style="italic">P</text>
<line x1="547.7" y1="192.8" x2="547.7" y2="195.8" stroke="#333" stroke-width="0.8"/>
<line x1="540.7" y1="195.8" x2="554.7" y2="195.8" stroke="#333" stroke-width="0.8"/>
<line x1="543.2" y1="198.8" x2="552.2" y2="198.8" stroke="#333" stroke-width="0.8"/>
<line x1="545.7" y1="201.8" x2="549.7" y2="201.8" stroke="#333" stroke-width="0.8"/>
<path d="M543.1,150.6 C540,135 534,120 527,126 C524,128 522,132 521,135.5" fill="none" stroke="#2a3a6a" stroke-width="0.7"/><polyline points="519.2,131.8 521,135.8 524,132.6" stroke="#2a3a6a" stroke-width="0.7" fill="none" stroke-linejoin="round"/>
<text x="541.9" y="133.2" font-size="13" text-anchor="start" font-family='"Liberation Serif", serif' fill="#000" stroke="#000" stroke-width="0.0"><tspan font-style="italic">V</tspan> ~ 0</text>
<path d="M568.1,162.3 C580,160 590,155 594.4,148.3 L594.4,193.6 L568.1,193.6 Z" fill="url(#gBl)"/>
<rect x="594.4" y="156.5" width="24.8" height="37.1" fill="url(#gOr)"/>
<path d="M568.1,162.3 C580,160 590,155 594.4,148.3" fill="none" stroke="#2a3a6a" stroke-width="0.8"/>
<line x1="568.1" y1="164.5" x2="594.4" y2="164.5" stroke="#999" stroke-width="0.6" stroke-dasharray="2,1"/>
<line x1="594.4" y1="148.3" x2="594.4" y2="193.6" stroke="#222" stroke-width="0.9"/>
<circle cx="598.3" cy="154.6" r="1.9" fill="#000"/><circle cx="603.7" cy="154.6" r="1.9" fill="#000"/><circle cx="609.2" cy="154.6" r="1.9" fill="#000"/><circle cx="614.6" cy="154.6" r="1.9" fill="#000"/><line x1="611" y1="155.5" x2="584" y2="159" stroke="#333" stroke-width="0.5"/>
<line x1="607" y1="155.5" x2="584" y2="161.8" stroke="#333" stroke-width="0.5"/>
<line x1="603" y1="155.5" x2="584" y2="164.6" stroke="#333" stroke-width="0.5"/>
<line x1="599" y1="155.5" x2="584" y2="167.4" stroke="#333" stroke-width="0.5"/>
<line x1="586" y1="158" x2="591" y2="158" stroke="#555" stroke-width="0.8"/>
<line x1="586" y1="162" x2="591" y2="162" stroke="#555" stroke-width="0.8"/>
<line x1="586" y1="166" x2="591" y2="166" stroke="#555" stroke-width="0.8"/>
<line x1="586" y1="170" x2="591" y2="170" stroke="#555" stroke-width="0.8"/>
<circle cx="594.4" cy="177.4" r="3.6" fill="#ee1111"/><line x1="592.2" y1="177.4" x2="596.6" y2="177.4" stroke="#fff" stroke-width="1.1"/>
<line x1="594.4" y1="175.2" x2="594.4" y2="179.6" stroke="#fff" stroke-width="1.1"/>
<circle cx="594.4" cy="187.1" r="3.6" fill="#ee1111"/><line x1="592.2" y1="187.1" x2="596.6" y2="187.1" stroke="#fff" stroke-width="1.1"/>
<line x1="594.4" y1="184.9" x2="594.4" y2="189.3" stroke="#fff" stroke-width="1.1"/>
<path d="M568.1,182 L581,182 L581,179.2 L589,183.2 L581,187.2 L581,184.4 L568.1,184.4 Z" fill="url(#gArR)"/>
<text x="574" y="179.2" font-size="12" text-anchor="middle" font-family='"Liberation Serif", serif' fill="#000" stroke="#000" stroke-width="0.0" font-style="italic">P</text>
<line x1="611.1" y1="192.8" x2="611.1" y2="195.8" stroke="#333" stroke-width="0.8"/>
<line x1="604.1" y1="195.8" x2="618.1" y2="195.8" stroke="#333" stroke-width="0.8"/>
<line x1="606.6" y1="198.8" x2="615.6" y2="198.8" stroke="#333" stroke-width="0.8"/>
<line x1="609.1" y1="201.8" x2="613.1" y2="201.8" stroke="#333" stroke-width="0.8"/>
<path d="M600,152 C596,146 590,144 585,146 C580,148 577,150 575,151" fill="none" stroke="#2a3a6a" stroke-width="0.7"/><polyline points="577.5,148 574.8,151.2 578.5,152.2" stroke="#2a3a6a" stroke-width="0.7" fill="none" stroke-linejoin="round"/>
<text x="592.5" y="133.2" font-size="13" text-anchor="start" font-family='"Liberation Serif", serif' fill="#000" stroke="#000" stroke-width="0.0"><tspan font-style="italic">V</tspan> ~ <tspan font-style="italic">V</tspan><tspan font-size="9" dy="2">c</tspan></text>
<path d="M632,167 C645,164 655,155 659.9,140.2 L659.9,193.6 L632,193.6 Z" fill="url(#gBl)"/>
<rect x="659.9" y="156.5" width="25.1" height="37.1" fill="url(#gOr)"/>
<path d="M632,167 C645,164 655,155 659.9,140.2" fill="none" stroke="#2a3a6a" stroke-width="0.8"/>
<line x1="632" y1="170" x2="659.9" y2="170" stroke="#999" stroke-width="0.6" stroke-dasharray="2,1"/>
<line x1="659.9" y1="140.2" x2="659.9" y2="193.6" stroke="#888" stroke-width="1.0"/>
<circle cx="672.7" cy="155.3" r="1.9" fill="#000"/><circle cx="652.5" cy="165.8" r="2.2" fill="#000"/><circle cx="652.5" cy="170.9" r="2.2" fill="#000"/><circle cx="652.5" cy="175.8" r="2.2" fill="#000"/><circle cx="659.9" cy="179.7" r="3.6" fill="#ee1111"/><line x1="657.7" y1="179.7" x2="662.1" y2="179.7" stroke="#fff" stroke-width="1.1"/>
<line x1="659.9" y1="177.5" x2="659.9" y2="181.9" stroke="#fff" stroke-width="1.1"/>
<circle cx="659.9" cy="190.2" r="3.6" fill="#ee1111"/><line x1="657.7" y1="190.2" x2="662.1" y2="190.2" stroke="#fff" stroke-width="1.1"/>
<line x1="659.9" y1="188" x2="659.9" y2="192.4" stroke="#fff" stroke-width="1.1"/>
<path d="M632,184.3 L647.3,184.3 L647.3,181.5 L655.3,185.5 L647.3,189.5 L647.3,186.7 L632,186.7 Z" fill="url(#gArR)"/>
<text x="639" y="182" font-size="12" text-anchor="middle" font-family='"Liberation Serif", serif' fill="#000" stroke="#000" stroke-width="0.0" font-style="italic">P</text>
<line x1="676.7" y1="192.8" x2="676.7" y2="195.8" stroke="#333" stroke-width="0.8"/>
<line x1="669.7" y1="195.8" x2="683.7" y2="195.8" stroke="#333" stroke-width="0.8"/>
<line x1="672.2" y1="198.8" x2="681.2" y2="198.8" stroke="#333" stroke-width="0.8"/>
<line x1="674.7" y1="201.8" x2="678.7" y2="201.8" stroke="#333" stroke-width="0.8"/>
<path d="M672.7,152.5 C670,140 664,134 659,136 C656,138 654,143 652.5,147" fill="none" stroke="#2a3a6a" stroke-width="0.7"/><polyline points="650.5,143.5 652.3,147.4 655.2,144.5" stroke="#2a3a6a" stroke-width="0.7" fill="none" stroke-linejoin="round"/>
<text x="647.1" y="133.2" font-size="13" text-anchor="start" font-family='"Liberation Serif", serif' fill="#000" stroke="#000" stroke-width="0.0"><tspan font-style="italic">V</tspan> &gt; <tspan font-style="italic">V</tspan><tspan font-size="9" dy="2">c</tspan></text>
<text x="454.3" y="215.3" font-size="21.5" text-anchor="start" font-family='"Liberation Serif", serif' fill="#000" stroke="#000" stroke-width="0.0">g</text>
<line x1="496.6" y1="377.8" x2="496.6" y2="374.8" stroke="#666" stroke-width="0.8"/>
<line x1="506.5" y1="377.8" x2="506.5" y2="374.8" stroke="#666" stroke-width="0.8"/>
<line x1="516.3" y1="377.8" x2="516.3" y2="372.8" stroke="#666" stroke-width="0.8"/>
<line x1="526.1" y1="377.8" x2="526.1" y2="374.8" stroke="#666" stroke-width="0.8"/>
<line x1="536" y1="377.8" x2="536" y2="374.8" stroke="#666" stroke-width="0.8"/>
<line x1="545.9" y1="377.8" x2="545.9" y2="374.8" stroke="#666" stroke-width="0.8"/>
<line x1="555.7" y1="377.8" x2="555.7" y2="372.8" stroke="#666" stroke-width="0.8"/>
<line x1="565.6" y1="377.8" x2="565.6" y2="374.8" stroke="#666" stroke-width="0.8"/>
<line x1="575.4" y1="377.8" x2="575.4" y2="374.8" stroke="#666" stroke-width="0.8"/>
<line x1="585.2" y1="377.8" x2="585.2" y2="374.8" stroke="#666" stroke-width="0.8"/>
<line x1="595.1" y1="377.8" x2="595.1" y2="372.8" stroke="#666" stroke-width="0.8"/>
<line x1="605" y1="377.8" x2="605" y2="374.8" stroke="#666" stroke-width="0.8"/>
<line x1="614.8" y1="377.8" x2="614.8" y2="374.8" stroke="#666" stroke-width="0.8"/>
<line x1="624.6" y1="377.8" x2="624.6" y2="374.8" stroke="#666" stroke-width="0.8"/>
<line x1="634.5" y1="377.8" x2="634.5" y2="372.8" stroke="#666" stroke-width="0.8"/>
<line x1="644.4" y1="377.8" x2="644.4" y2="374.8" stroke="#666" stroke-width="0.8"/>
<line x1="654.2" y1="377.8" x2="654.2" y2="374.8" stroke="#666" stroke-width="0.8"/>
<line x1="664.1" y1="377.8" x2="664.1" y2="374.8" stroke="#666" stroke-width="0.8"/>
<line x1="673.9" y1="377.8" x2="673.9" y2="372.8" stroke="#666" stroke-width="0.8"/>
<line x1="485.8" y1="371.8" x2="488.8" y2="371.8" stroke="#666" stroke-width="0.8"/>
<line x1="485.8" y1="365.1" x2="490.8" y2="365.1" stroke="#666" stroke-width="0.8"/>
<line x1="485.8" y1="358.4" x2="488.8" y2="358.4" stroke="#666" stroke-width="0.8"/>
<line x1="485.8" y1="351.7" x2="488.8" y2="351.7" stroke="#666" stroke-width="0.8"/>
<line x1="485.8" y1="345" x2="488.8" y2="345" stroke="#666" stroke-width="0.8"/>
<line x1="485.8" y1="338.3" x2="490.8" y2="338.3" stroke="#666" stroke-width="0.8"/>
<line x1="485.8" y1="331.6" x2="488.8" y2="331.6" stroke="#666" stroke-width="0.8"/>
<line x1="485.8" y1="324.9" x2="488.8" y2="324.9" stroke="#666" stroke-width="0.8"/>
<line x1="485.8" y1="318.2" x2="488.8" y2="318.2" stroke="#666" stroke-width="0.8"/>
<line x1="485.8" y1="311.5" x2="490.8" y2="311.5" stroke="#666" stroke-width="0.8"/>
<line x1="485.8" y1="304.8" x2="488.8" y2="304.8" stroke="#666" stroke-width="0.8"/>
<line x1="485.8" y1="298.1" x2="488.8" y2="298.1" stroke="#666" stroke-width="0.8"/>
<line x1="485.8" y1="291.4" x2="488.8" y2="291.4" stroke="#666" stroke-width="0.8"/>
<line x1="485.8" y1="284.7" x2="490.8" y2="284.7" stroke="#666" stroke-width="0.8"/>
<line x1="485.8" y1="278" x2="488.8" y2="278" stroke="#666" stroke-width="0.8"/>
<line x1="485.8" y1="271.3" x2="488.8" y2="271.3" stroke="#666" stroke-width="0.8"/>
<line x1="485.8" y1="264.6" x2="488.8" y2="264.6" stroke="#666" stroke-width="0.8"/>
<line x1="485.8" y1="257.9" x2="490.8" y2="257.9" stroke="#666" stroke-width="0.8"/>
<line x1="485.8" y1="251.2" x2="488.8" y2="251.2" stroke="#666" stroke-width="0.8"/>
<line x1="485.8" y1="244.5" x2="488.8" y2="244.5" stroke="#666" stroke-width="0.8"/>
<line x1="485.8" y1="237.8" x2="488.8" y2="237.8" stroke="#666" stroke-width="0.8"/>
<line x1="485.8" y1="231.1" x2="490.8" y2="231.1" stroke="#666" stroke-width="0.8"/>
<line x1="485.8" y1="224.4" x2="488.8" y2="224.4" stroke="#666" stroke-width="0.8"/>
<rect x="485.8" y="218" width="198.09999999999997" height="159.8" fill="none" stroke="#555" stroke-width="0.9"/>
<text x="516.3" y="392" font-size="14" text-anchor="middle" font-family='"Liberation Serif", serif' fill="#000" stroke="#000" stroke-width="0.0">-4</text>
<text x="555.7" y="392" font-size="14" text-anchor="middle" font-family='"Liberation Serif", serif' fill="#000" stroke="#000" stroke-width="0.0">-2</text>
<text x="595.1" y="392" font-size="14" text-anchor="middle" font-family='"Liberation Serif", serif' fill="#000" stroke="#000" stroke-width="0.0">0</text>
<text x="634.5" y="392" font-size="14" text-anchor="middle" font-family='"Liberation Serif", serif' fill="#000" stroke="#000" stroke-width="0.0">2</text>
<text x="673.9" y="392" font-size="14" text-anchor="middle" font-family='"Liberation Serif", serif' fill="#000" stroke="#000" stroke-width="0.0">4</text>
<text x="482.5" y="236.1" font-size="14" text-anchor="end" font-family='"Liberation Serif", serif' fill="#000" stroke="#000" stroke-width="0.0">6</text>
<text x="482.5" y="262.9" font-size="14" text-anchor="end" font-family='"Liberation Serif", serif' fill="#000" stroke="#000" stroke-width="0.0">4</text>
<text x="482.5" y="289.7" font-size="14" text-anchor="end" font-family='"Liberation Serif", serif' fill="#000" stroke="#000" stroke-width="0.0">2</text>
<text x="482.5" y="316.5" font-size="14" text-anchor="end" font-family='"Liberation Serif", serif' fill="#000" stroke="#000" stroke-width="0.0">0</text>
<text x="482.5" y="343.3" font-size="14" text-anchor="end" font-family='"Liberation Serif", serif' fill="#000" stroke="#000" stroke-width="0.0">-2</text>
<text x="482.5" y="370.1" font-size="14" text-anchor="end" font-family='"Liberation Serif", serif' fill="#000" stroke="#000" stroke-width="0.0">-4</text>
<text x="587.2" y="404.6" font-size="14.5" text-anchor="middle" font-family='"Liberation Serif", serif' fill="#000" stroke="#000" stroke-width="0.0"><tspan font-style="italic">V</tspan> (V)</text>
<g transform="translate(465.5,307.5) rotate(-90)"><text x="0" y="0" font-size="15" text-anchor="middle" font-family='"Liberation Serif", serif' fill="#000" stroke="#000" stroke-width="0.0"><tspan font-style="italic">I</tspan> (μA)</text>
</g>
<polyline points="516,321.5 522,316 530,312.5 543.7,311 570,310.6 600,310.3 620,309.5 635,306 646,299 652,292" stroke="#666" stroke-width="0.9" fill="none" stroke-linejoin="round"/>
<polyline points="516,322 522,317 530,314.1 543.7,312.6 570,312 600,311.6 620,310.8 635,307.4 646,300.6 652,293.6" stroke="#888" stroke-width="0.9" fill="none" stroke-linejoin="round"/>
<polyline points="516,322.4 522,317.8 530,315.5 543.7,314 570,313.3 600,312.7 620,311.9 635,308.7 646,302 652,295" stroke="#777" stroke-width="0.9" fill="none" stroke-linejoin="round"/>
<g fill="none" stroke="#777" stroke-width="0.45"><circle cx="520" cy="317.6" r="2.0"/><circle cx="522.1" cy="316.7" r="2.0"/><circle cx="524.1" cy="315.8" r="2.0"/><circle cx="526.2" cy="314.9" r="2.0"/><circle cx="528.2" cy="314" r="2.0"/><circle cx="530.3" cy="313.2" r="2.0"/><circle cx="532.5" cy="312.8" r="2.0"/><circle cx="534.8" cy="312.5" r="2.0"/><circle cx="537" cy="312.2" r="2.0"/><circle cx="539.2" cy="311.9" r="2.0"/><circle cx="541.4" cy="311.5" r="2.0"/><circle cx="543.7" cy="311.3" r="2.0"/><circle cx="545.9" cy="311.2" r="2.0"/><circle cx="548.2" cy="311.2" r="2.0"/><circle cx="550.4" cy="311.2" r="2.0"/><circle cx="552.7" cy="311.1" r="2.0"/><circle cx="554.9" cy="311.1" r="2.0"/><circle cx="557.2" cy="311" r="2.0"/><circle cx="559.4" cy="311" r="2.0"/><circle cx="561.7" cy="311" r="2.0"/><circle cx="563.9" cy="310.9" r="2.0"/><circle cx="566.1" cy="310.9" r="2.0"/><circle cx="568.4" cy="310.8" r="2.0"/><circle cx="570.6" cy="310.8" r="2.0"/><circle cx="572.9" cy="310.8" r="2.0"/><circle cx="575.1" cy="310.7" r="2.0"/><circle cx="577.4" cy="310.7" r="2.0"/><circle cx="579.6" cy="310.6" r="2.0"/><circle cx="581.9" cy="310.6" r="2.0"/><circle cx="584.1" cy="310.6" r="2.0"/><circle cx="586.4" cy="310.5" r="2.0"/><circle cx="588.6" cy="310.5" r="2.0"/><circle cx="590.9" cy="310.5" r="2.0"/><circle cx="593.1" cy="310.4" r="2.0"/><circle cx="595.4" cy="310.4" r="2.0"/><circle cx="597.6" cy="310.3" r="2.0"/><circle cx="599.9" cy="310.3" r="2.0"/><circle cx="602.1" cy="310.2" r="2.0"/><circle cx="604.4" cy="310.1" r="2.0"/><circle cx="606.6" cy="310.1" r="2.0"/><circle cx="608.9" cy="310" r="2.0"/><circle cx="611.1" cy="309.9" r="2.0"/><circle cx="613.3" cy="309.8" r="2.0"/><circle cx="615.6" cy="309.8" r="2.0"/><circle cx="617.8" cy="309.7" r="2.0"/><circle cx="620.1" cy="309.6" r="2.0"/><circle cx="622.3" cy="309.1" r="2.0"/><circle cx="624.5" cy="308.6" r="2.0"/><circle cx="626.7" cy="308.2" r="2.0"/><circle cx="628.9" cy="307.7" r="2.0"/><circle cx="631.1" cy="307.2" r="2.0"/><circle cx="633.1" cy="306.4" r="2.0"/><circle cx="635.1" cy="305.3" r="2.0"/><circle cx="637.1" cy="304.2" r="2.0"/><circle cx="639" cy="303.1" r="2.0"/><circle cx="641" cy="302" r="2.0"/><circle cx="524" cy="320" r="2.0"/><circle cx="526.2" cy="319.3" r="2.0"/><circle cx="528.3" cy="318.6" r="2.0"/><circle cx="530.5" cy="317.9" r="2.0"/><circle cx="532.7" cy="317.2" r="2.0"/><circle cx="534.8" cy="316.6" r="2.0"/><circle cx="537.1" cy="316.2" r="2.0"/><circle cx="539.3" cy="315.8" r="2.0"/><circle cx="541.6" cy="315.5" r="2.0"/><circle cx="543.8" cy="315.1" r="2.0"/><circle cx="546" cy="314.7" r="2.0"/><circle cx="548.3" cy="314.4" r="2.0"/><circle cx="550.5" cy="314.1" r="2.0"/><circle cx="552.8" cy="314" r="2.0"/><circle cx="555.1" cy="313.9" r="2.0"/><circle cx="557.4" cy="313.8" r="2.0"/><circle cx="559.6" cy="313.7" r="2.0"/><circle cx="561.9" cy="313.6" r="2.0"/><circle cx="564.2" cy="313.5" r="2.0"/><circle cx="566.4" cy="313.4" r="2.0"/><circle cx="568.7" cy="313.3" r="2.0"/><circle cx="571" cy="313.2" r="2.0"/><circle cx="573.3" cy="313.1" r="2.0"/><circle cx="575.5" cy="313" r="2.0"/><circle cx="577.8" cy="313" r="2.0"/><circle cx="580.1" cy="312.9" r="2.0"/><circle cx="582.3" cy="312.9" r="2.0"/><circle cx="584.6" cy="312.8" r="2.0"/><circle cx="586.9" cy="312.8" r="2.0"/><circle cx="589.2" cy="312.8" r="2.0"/><circle cx="591.4" cy="312.7" r="2.0"/><circle cx="593.7" cy="312.7" r="2.0"/><circle cx="596" cy="312.7" r="2.0"/><circle cx="598.2" cy="312.6" r="2.0"/><circle cx="600.5" cy="312.6" r="2.0"/><circle cx="602.8" cy="312.5" r="2.0"/><circle cx="605.1" cy="312.3" r="2.0"/><circle cx="607.3" cy="312.2" r="2.0"/><circle cx="609.6" cy="312.1" r="2.0"/><circle cx="611.9" cy="312" r="2.0"/><circle cx="614.1" cy="311.9" r="2.0"/><circle cx="616.4" cy="311.8" r="2.0"/><circle cx="618.7" cy="311.7" r="2.0"/><circle cx="620.9" cy="311.6" r="2.0"/><circle cx="623.2" cy="311.2" r="2.0"/><circle cx="625.4" cy="310.5" r="2.0"/><circle cx="627.5" cy="309.9" r="2.0"/><circle cx="629.7" cy="309.3" r="2.0"/><circle cx="631.9" cy="308.7" r="2.0"/><circle cx="634.1" cy="308" r="2.0"/><circle cx="636.3" cy="307.3" r="2.0"/><circle cx="638.2" cy="306.2" r="2.0"/><circle cx="640.2" cy="305" r="2.0"/><circle cx="642.1" cy="303.8" r="2.0"/><circle cx="644.1" cy="302.7" r="2.0"/><circle cx="646" cy="301.5" r="2.0"/></g>
<g fill="#fff" stroke="#555" stroke-width="0.55"><circle cx="495.8" cy="369.5" r="2.3"/><circle cx="494.8" cy="366.6" r="2.3"/><circle cx="494.9" cy="363.6" r="2.3"/><circle cx="495.3" cy="360.5" r="2.3"/><circle cx="496.4" cy="357.7" r="2.3"/><circle cx="497.2" cy="354.5" r="2.3"/><circle cx="498" cy="351.8" r="2.3"/><circle cx="499.1" cy="348.3" r="2.3"/><circle cx="500.1" cy="345.9" r="2.3"/><circle cx="501.1" cy="342.8" r="2.3"/><circle cx="502" cy="339.6" r="2.3"/><circle cx="503.7" cy="336.8" r="2.3"/><circle cx="504.7" cy="334.1" r="2.3"/><circle cx="506.1" cy="331.5" r="2.3"/><circle cx="508.5" cy="329.5" r="2.3"/><circle cx="510.8" cy="327.2" r="2.3"/><circle cx="513" cy="325" r="2.3"/><circle cx="515.1" cy="322.6" r="2.3"/><circle cx="517.6" cy="320.8" r="2.3"/><circle cx="519.7" cy="318.4" r="2.3"/><circle cx="522" cy="316.4" r="2.3"/><circle cx="524.7" cy="314.7" r="2.3"/><circle cx="527.7" cy="313.5" r="2.3"/><circle cx="530.8" cy="312.9" r="2.3"/><circle cx="534" cy="312.6" r="2.3"/><circle cx="536.5" cy="311.9" r="2.3"/><circle cx="540.1" cy="311.8" r="2.3"/><circle cx="543.3" cy="311.4" r="2.3"/><circle cx="499.4" cy="340.2" r="2.3"/><circle cx="503" cy="341.6" r="2.3"/><circle cx="505" cy="339.8" r="2.3"/><circle cx="507.7" cy="337.2" r="2.3"/><circle cx="509.3" cy="334.1" r="2.3"/><circle cx="511.9" cy="331.4" r="2.3"/><circle cx="514.8" cy="329" r="2.3"/><circle cx="517.1" cy="326.6" r="2.3"/><circle cx="519.4" cy="324.2" r="2.3"/><circle cx="521.9" cy="321.7" r="2.3"/><circle cx="524.7" cy="319.4" r="2.3"/><circle cx="528.2" cy="318.3" r="2.3"/><circle cx="532.1" cy="317.8" r="2.3"/><circle cx="535.2" cy="317.1" r="2.3"/><circle cx="538.6" cy="316.1" r="2.3"/><circle cx="542.5" cy="315.8" r="2.3"/><circle cx="545.6" cy="315.5" r="2.3"/><circle cx="549.2" cy="314.6" r="2.3"/><circle cx="636.2" cy="305.4" r="2.3"/><circle cx="639.7" cy="303.6" r="2.3"/><circle cx="643.5" cy="302.4" r="2.3"/><circle cx="647.4" cy="300.7" r="2.3"/><circle cx="651" cy="298.5" r="2.3"/><circle cx="654" cy="295.4" r="2.3"/><circle cx="655.9" cy="292.1" r="2.3"/><circle cx="657.6" cy="287.9" r="2.3"/><circle cx="659.6" cy="284.5" r="2.3"/><circle cx="660.8" cy="280.2" r="2.3"/><circle cx="662.2" cy="276.7" r="2.3"/><circle cx="663.1" cy="272.7" r="2.3"/><circle cx="664.6" cy="268.5" r="2.3"/><circle cx="665.5" cy="264.2" r="2.3"/><circle cx="666.4" cy="260.7" r="2.3"/><circle cx="667.3" cy="256.4" r="2.3"/><circle cx="668" cy="252.4" r="2.3"/><circle cx="669" cy="248" r="2.3"/><circle cx="669.5" cy="244.1" r="2.3"/><circle cx="670.2" cy="239.7" r="2.3"/><circle cx="671.3" cy="236" r="2.3"/><circle cx="672.2" cy="231.6" r="2.3"/><circle cx="641.3" cy="301.3" r="2.3"/><circle cx="643.8" cy="298.9" r="2.3"/><circle cx="647.2" cy="296.2" r="2.3"/><circle cx="649.9" cy="293.6" r="2.3"/><circle cx="652.7" cy="290.4" r="2.3"/><circle cx="654.6" cy="287.4" r="2.3"/><circle cx="656.4" cy="283.5" r="2.3"/><circle cx="657.7" cy="279.8" r="2.3"/><circle cx="658.9" cy="275.7" r="2.3"/><circle cx="659.8" cy="272.4" r="2.3"/><circle cx="661.1" cy="268.5" r="2.3"/><circle cx="661.5" cy="264.4" r="2.3"/><circle cx="662.6" cy="260.5" r="2.3"/><circle cx="663.4" cy="256.8" r="2.3"/><circle cx="664" cy="252.6" r="2.3"/><circle cx="665.1" cy="248.8" r="2.3"/><circle cx="665.8" cy="244.8" r="2.3"/><circle cx="666.6" cy="240.9" r="2.3"/><circle cx="667.1" cy="236.9" r="2.3"/><circle cx="668.2" cy="233.1" r="2.3"/><circle cx="668.7" cy="229.1" r="2.3"/><circle cx="547.7" cy="315.3" r="2.3"/></g>
<rect x="507.4" y="220.1" width="85.80000000000007" height="69.1" fill="#fff" stroke="#666" stroke-width="0.7"/>
<line x1="510.3" y1="289.2" x2="510.3" y2="287.2" stroke="#666" stroke-width="0.6"/>
<line x1="517" y1="289.2" x2="517" y2="287.2" stroke="#666" stroke-width="0.6"/>
<line x1="523.8" y1="289.2" x2="523.8" y2="286.2" stroke="#666" stroke-width="0.6"/>
<line x1="530.5" y1="289.2" x2="530.5" y2="287.2" stroke="#666" stroke-width="0.6"/>
<line x1="537.3" y1="289.2" x2="537.3" y2="287.2" stroke="#666" stroke-width="0.6"/>
<line x1="544" y1="289.2" x2="544" y2="287.2" stroke="#666" stroke-width="0.6"/>
<line x1="550.8" y1="289.2" x2="550.8" y2="286.2" stroke="#666" stroke-width="0.6"/>
<line x1="557.5" y1="289.2" x2="557.5" y2="287.2" stroke="#666" stroke-width="0.6"/>
<line x1="564.3" y1="289.2" x2="564.3" y2="287.2" stroke="#666" stroke-width="0.6"/>
<line x1="571" y1="289.2" x2="571" y2="287.2" stroke="#666" stroke-width="0.6"/>
<line x1="577.8" y1="289.2" x2="577.8" y2="286.2" stroke="#666" stroke-width="0.6"/>
<line x1="584.5" y1="289.2" x2="584.5" y2="287.2" stroke="#666" stroke-width="0.6"/>
<line x1="591.3" y1="289.2" x2="591.3" y2="287.2" stroke="#666" stroke-width="0.6"/>
<line x1="507.4" y1="283.6" x2="509.4" y2="283.6" stroke="#666" stroke-width="0.6"/>
<line x1="507.4" y1="276.8" x2="509.4" y2="276.8" stroke="#666" stroke-width="0.6"/>
<line x1="507.4" y1="270.1" x2="509.4" y2="270.1" stroke="#666" stroke-width="0.6"/>
<line x1="507.4" y1="263.3" x2="510.4" y2="263.3" stroke="#666" stroke-width="0.6"/>
<line x1="507.4" y1="256.6" x2="509.4" y2="256.6" stroke="#666" stroke-width="0.6"/>
<line x1="507.4" y1="249.8" x2="509.4" y2="249.8" stroke="#666" stroke-width="0.6"/>
<line x1="507.4" y1="243.1" x2="509.4" y2="243.1" stroke="#666" stroke-width="0.6"/>
<line x1="507.4" y1="236.3" x2="510.4" y2="236.3" stroke="#666" stroke-width="0.6"/>
<line x1="507.4" y1="229.6" x2="509.4" y2="229.6" stroke="#666" stroke-width="0.6"/>
<line x1="507.4" y1="222.8" x2="509.4" y2="222.8" stroke="#666" stroke-width="0.6"/>
<text x="523.8" y="298.1" font-size="11" text-anchor="middle" font-family='"Liberation Serif", serif' fill="#000" stroke="#000" stroke-width="0.0">-2</text>
<text x="550.8" y="298.1" font-size="11" text-anchor="middle" font-family='"Liberation Serif", serif' fill="#000" stroke="#000" stroke-width="0.0">0</text>
<text x="577.8" y="298.1" font-size="11" text-anchor="middle" font-family='"Liberation Serif", serif' fill="#000" stroke="#000" stroke-width="0.0">2</text>
<text x="505" y="240.1" font-size="11" text-anchor="end" font-family='"Liberation Serif", serif' fill="#000" stroke="#000" stroke-width="0.0">1</text>
<text x="505" y="267.1" font-size="11" text-anchor="end" font-family='"Liberation Serif", serif' fill="#000" stroke="#000" stroke-width="0.0">0</text>
<text x="505" y="294.1" font-size="11" text-anchor="end" font-family='"Liberation Serif", serif' fill="#000" stroke="#000" stroke-width="0.0">-1</text>
<text x="549.9" y="306.6" font-size="12" text-anchor="middle" font-family='"Liberation Serif", serif' fill="#000" stroke="#000" stroke-width="0.0"><tspan font-style="italic">V</tspan> (V)</text>
<g transform="translate(498.3,256.7) rotate(-90)"><text x="0" y="0" font-size="10.5" text-anchor="middle" font-family='"Liberation Serif", serif' fill="#000" stroke="#000" stroke-width="0.0"><tspan font-style="italic">I</tspan> (μA)</text>
</g>
<g fill="none" stroke="#888" stroke-width="0.45"><circle cx="508.9" cy="264.1" r="1.2"/><circle cx="511.4" cy="264" r="1.2"/><circle cx="513.8" cy="263.8" r="1.2"/><circle cx="516.2" cy="263.7" r="1.2"/><circle cx="518.7" cy="263.5" r="1.2"/><circle cx="521.1" cy="263.4" r="1.2"/><circle cx="523.5" cy="263.2" r="1.2"/><circle cx="526" cy="263.1" r="1.2"/><circle cx="528.4" cy="263" r="1.2"/><circle cx="530.8" cy="262.8" r="1.2"/><circle cx="533.3" cy="262.7" r="1.2"/><circle cx="535.7" cy="262.5" r="1.2"/><circle cx="538.1" cy="262.4" r="1.2"/><circle cx="540.6" cy="262.3" r="1.2"/><circle cx="543" cy="262.2" r="1.2"/><circle cx="545.4" cy="262.1" r="1.2"/><circle cx="547.9" cy="262" r="1.2"/><circle cx="550.3" cy="261.9" r="1.2"/><circle cx="552.7" cy="261.8" r="1.2"/><circle cx="555.2" cy="261.7" r="1.2"/><circle cx="557.6" cy="261.6" r="1.2"/><circle cx="560" cy="261.5" r="1.2"/><circle cx="562.4" cy="261.1" r="1.2"/><circle cx="564.8" cy="260" r="1.2"/><circle cx="567.2" cy="258.8" r="1.2"/><circle cx="569.5" cy="257.6" r="1.2"/><circle cx="571.8" cy="256" r="1.2"/><circle cx="573.9" cy="253.5" r="1.2"/><circle cx="575.9" cy="250.9" r="1.2"/><circle cx="578" cy="248.3" r="1.2"/><circle cx="580.1" cy="245.8" r="1.2"/><circle cx="581.7" cy="242.3" r="1.2"/><circle cx="583.3" cy="238.6" r="1.2"/><circle cx="584.9" cy="234.9" r="1.2"/><circle cx="586.5" cy="231.2" r="1.2"/><circle cx="588.2" cy="227.8" r="1.2"/><circle cx="590.2" cy="224.9" r="1.2"/><circle cx="592.1" cy="222" r="1.2"/><circle cx="508.9" cy="267.1" r="1.2"/><circle cx="511.5" cy="267.8" r="1.2"/><circle cx="514" cy="268.5" r="1.2"/><circle cx="516.5" cy="269.1" r="1.2"/><circle cx="518.9" cy="270.7" r="1.2"/><circle cx="521.3" cy="269.4" r="1.2"/><circle cx="523.7" cy="267.7" r="1.2"/><circle cx="526.2" cy="266.8" r="1.2"/><circle cx="528.8" cy="266.4" r="1.2"/><circle cx="531.3" cy="266" r="1.2"/><circle cx="533.9" cy="265.6" r="1.2"/><circle cx="536.4" cy="265.2" r="1.2"/><circle cx="538.9" cy="264.8" r="1.2"/><circle cx="541.5" cy="264.4" r="1.2"/><circle cx="544" cy="264" r="1.2"/><circle cx="546.6" cy="263.5" r="1.2"/><circle cx="549.1" cy="263.3" r="1.2"/><circle cx="551.7" cy="263.1" r="1.2"/><circle cx="554.2" cy="263" r="1.2"/><circle cx="556.8" cy="262.9" r="1.2"/><circle cx="559.3" cy="262.8" r="1.2"/><circle cx="561.9" cy="262.7" r="1.2"/><circle cx="564.4" cy="262.6" r="1.2"/><circle cx="567" cy="262.3" r="1.2"/><circle cx="569.5" cy="261.4" r="1.2"/><circle cx="572" cy="260.4" r="1.2"/><circle cx="574.5" cy="259.4" r="1.2"/><circle cx="577" cy="258.4" r="1.2"/><circle cx="579.3" cy="256.6" r="1.2"/><circle cx="581.5" cy="254" r="1.2"/><circle cx="583.7" cy="251.4" r="1.2"/><circle cx="585.7" cy="248.3" r="1.2"/><circle cx="587.3" cy="244.4" r="1.2"/><circle cx="588.9" cy="240.4" r="1.2"/><circle cx="590.2" cy="236.1" r="1.2"/><circle cx="591.2" cy="231.4" r="1.2"/><circle cx="592.2" cy="226.7" r="1.2"/><circle cx="593.2" cy="222" r="1.2"/><circle cx="508.9" cy="270.6" r="1.2"/><circle cx="510.4" cy="270.2" r="1.2"/><circle cx="511.9" cy="269.8" r="1.2"/><circle cx="513.4" cy="269.3" r="1.2"/><circle cx="514.9" cy="268.9" r="1.2"/><circle cx="516.4" cy="268.4" r="1.2"/><circle cx="517.8" cy="267.6" r="1.2"/><circle cx="519.3" cy="266.9" r="1.2"/><circle cx="520.8" cy="266.2" r="1.2"/><circle cx="522.2" cy="265.8" r="1.2"/><circle cx="523.7" cy="265.6" r="1.2"/><circle cx="525.2" cy="265.4" r="1.2"/><circle cx="526.7" cy="265.2" r="1.2"/><circle cx="528.2" cy="265" r="1.2"/><circle cx="529.7" cy="264.8" r="1.2"/><circle cx="531.2" cy="264.6" r="1.2"/><circle cx="532.7" cy="264.5" r="1.2"/><circle cx="534.2" cy="264.5" r="1.2"/><circle cx="535.8" cy="264.4" r="1.2"/><circle cx="537.3" cy="264.3" r="1.2"/><circle cx="538.8" cy="264.2" r="1.2"/><circle cx="540.3" cy="264.1" r="1.2"/><circle cx="541.8" cy="264.1" r="1.2"/><circle cx="543.3" cy="264" r="1.2"/><circle cx="544.8" cy="263.9" r="1.2"/><circle cx="546.3" cy="263.8" r="1.2"/><circle cx="547.8" cy="263.7" r="1.2"/><circle cx="549.3" cy="263.7" r="1.2"/><circle cx="550.8" cy="263.6" r="1.2"/><circle cx="552.3" cy="263.5" r="1.2"/><circle cx="553.8" cy="263.4" r="1.2"/><circle cx="555.3" cy="263.3" r="1.2"/><circle cx="556.8" cy="263.2" r="1.2"/><circle cx="558.3" cy="263.1" r="1.2"/><circle cx="559.8" cy="263" r="1.2"/><circle cx="561.3" cy="262.9" r="1.2"/><circle cx="562.8" cy="262.9" r="1.2"/><circle cx="564.3" cy="262.8" r="1.2"/><circle cx="594" cy="228.2" r="1.2"/><circle cx="593.6" cy="229.5" r="1.2"/><circle cx="593.2" cy="230.7" r="1.2"/><circle cx="592.7" cy="232" r="1.2"/><circle cx="592.3" cy="233.2" r="1.2"/><circle cx="591.9" cy="234.5" r="1.2"/><circle cx="591.5" cy="235.7" r="1.2"/><circle cx="591.1" cy="237" r="1.2"/><circle cx="590.7" cy="238.3" r="1.2"/><circle cx="590.3" cy="239.5" r="1.2"/><circle cx="589.9" cy="240.8" r="1.2"/><circle cx="589.5" cy="242.1" r="1.2"/><circle cx="589.1" cy="243.4" r="1.2"/><circle cx="588.7" cy="244.7" r="1.2"/><circle cx="588.3" cy="245.9" r="1.2"/><circle cx="587.9" cy="247.2" r="1.2"/><circle cx="587.5" cy="248.5" r="1.2"/><circle cx="587" cy="249.7" r="1.2"/><circle cx="586.4" cy="250.6" r="1.2"/><circle cx="585.9" cy="251.6" r="1.2"/><circle cx="585.3" cy="252.6" r="1.2"/><circle cx="584.7" cy="253.6" r="1.2"/><circle cx="584.1" cy="254.5" r="1.2"/><circle cx="583.6" cy="255.5" r="1.2"/><circle cx="583" cy="256.5" r="1.2"/><circle cx="582.4" cy="257.5" r="1.2"/><circle cx="581.9" cy="258.4" r="1.2"/><circle cx="581.1" cy="258.8" r="1.2"/><circle cx="580.4" cy="259.1" r="1.2"/><circle cx="579.6" cy="259.4" r="1.2"/><circle cx="578.9" cy="259.7" r="1.2"/><circle cx="578.2" cy="260" r="1.2"/><circle cx="577.4" cy="260.4" r="1.2"/><circle cx="576.7" cy="260.7" r="1.2"/><circle cx="576" cy="261" r="1.2"/><circle cx="575.2" cy="261.3" r="1.2"/><circle cx="574.5" cy="261.6" r="1.2"/><circle cx="573.8" cy="261.9" r="1.2"/></g>
<text x="570" y="237" font-size="11" text-anchor="middle" font-family='"Liberation Serif", serif' fill="#000" stroke="#000" stroke-width="0.0">2</text>
<line x1="577" y1="238" x2="572.4" y2="246.3" stroke="#222" stroke-width="0.8"/>
<polyline points="571.4,242.4 572.3,246.7 575.5,243.8" stroke="#222" stroke-width="0.8" fill="none" stroke-linejoin="round"/>
<text x="587.9" y="262.6" font-size="11" text-anchor="middle" font-family='"Liberation Serif", serif' fill="#000" stroke="#000" stroke-width="0.0">1</text>
<line x1="585.1" y1="257.9" x2="587.4" y2="247.5" stroke="#222" stroke-width="0.8"/>
<polyline points="585.1,250.6 587.5,247.1 588.9,251.1" stroke="#222" stroke-width="0.8" fill="none" stroke-linejoin="round"/>
<text x="524.3" y="256.3" font-size="11" text-anchor="middle" font-family='"Liberation Serif", serif' fill="#000" stroke="#000" stroke-width="0.0">4</text>
<line x1="514.4" y1="257.9" x2="530.6" y2="257.9" stroke="#222" stroke-width="0.8"/>
<polyline points="527.2,255.5 531,257.9 527.2,260.3" stroke="#222" stroke-width="0.8" fill="none" stroke-linejoin="round"/>
<text x="534.1" y="276.5" font-size="11" text-anchor="middle" font-family='"Liberation Serif", serif' fill="#000" stroke="#000" stroke-width="0.0">3</text>
<path d="M528.3,270.7 C525,276 521,280 517,277 C515,275.5 514,274.5 513.2,273" fill="none" stroke="#2a4a8a" stroke-width="0.8"/><polyline points="512.5,276.6 513.2,272.6 516.6,274.6" stroke="#2a4a8a" stroke-width="0.8" fill="none" stroke-linejoin="round"/>
<polygon points="595.1,323.7 607.1,335.7 607.1,372.5 595.1,359.6" fill="#7a7a7a"/><polygon points="595.1,323.7 607.1,335.7 607.1,356 595.1,343" fill="#a8b8c8"/><polygon points="595.1,323.7 658.5,319.4 668.7,329.7 607.1,335.7" fill="#c8dbe8"/><polygon points="607.1,335.7 668.7,329.7 668.7,349 607.1,356" fill="#c5d8e6"/><polygon points="607.1,356 668.7,349 668.7,363.1 607.1,372.5" fill="#8c8c8c"/><polygon points="625.1,326.3 639.6,325.4 642.2,332.3 626.8,334" fill="#f2b400"/><polygon points="626.8,334 642.2,332.3 642.2,333.5 626.8,335.3" fill="#c08000"/><text x="631" y="332" font-size="5.5" text-anchor="middle" font-family='"Liberation Serif", serif' fill="#333" stroke="#333" stroke-width="0.0">Pt</text>
<text x="641.4" y="349.5" font-size="7.5" text-anchor="middle" font-family='"Liberation Serif", serif' fill="#222" stroke="#222" stroke-width="0.0"><tspan font-style="italic">WZ'</tspan>-In<tspan font-size="4" dy="1">2</tspan><tspan dy="-1">Se</tspan><tspan font-size="4.5" dy="1">3</tspan></text>
<text x="640.5" y="364.5" font-size="8.5" text-anchor="middle" font-family='"Liberation Serif", serif' fill="#222" stroke="#222" stroke-width="0.0">Si</text>
<polyline points="636.2,327.1 673.9,322 673.9,328" stroke="#8090b0" stroke-width="0.6" fill="none" stroke-linejoin="round"/>
<circle cx="673.9" cy="333.1" r="5" fill="#fff" stroke="#333" stroke-width="0.7"/><text x="673.9" y="335.5" font-size="6.5" text-anchor="middle" font-family='"Liberation Serif", serif' fill="#222" stroke="#222" stroke-width="0.0">A</text>
<line x1="673.9" y1="338.1" x2="673.9" y2="364.8" stroke="#888" stroke-width="0.6"/>
<line x1="670" y1="345.5" x2="677.8" y2="345.5" stroke="#888" stroke-width="0.8"/>
<line x1="671.5" y1="347.5" x2="676.3" y2="347.5" stroke="#888" stroke-width="0.8"/>
<line x1="669" y1="364.8" x2="678.8" y2="364.8" stroke="#555" stroke-width="0.7"/>
<line x1="670.8" y1="366.8" x2="677" y2="366.8" stroke="#555" stroke-width="0.7"/>
<line x1="672.5" y1="368.8" x2="675.3" y2="368.8" stroke="#555" stroke-width="0.7"/>
</svg></body></html>
